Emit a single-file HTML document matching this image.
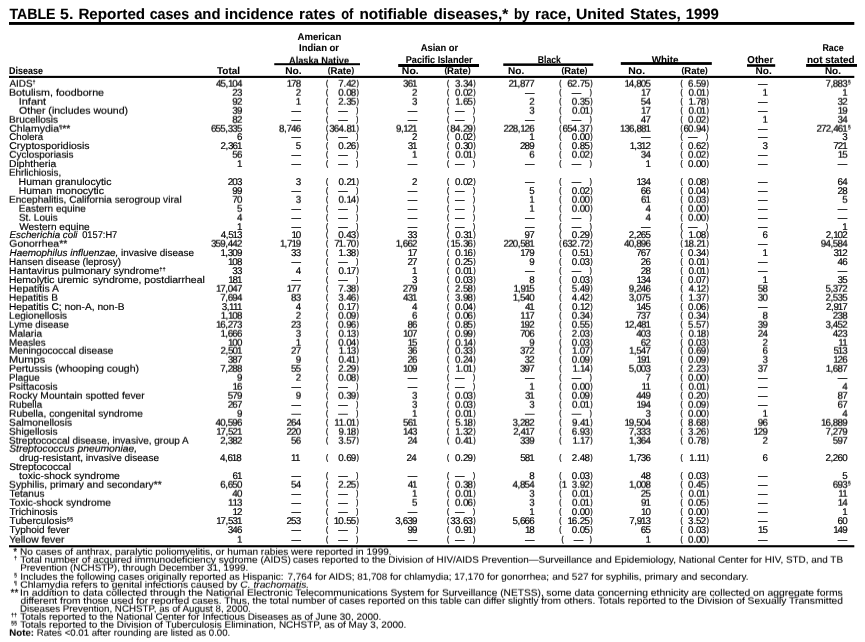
<!DOCTYPE html>
<html lang="en"><head><meta charset="utf-8"><title>TABLE 5. Reported cases and incidence rates of notifiable diseases, by race, United States, 1999</title>
<style>
html,body{margin:0;padding:0;background:#fff}
html{overflow:hidden}
body{width:865px;height:642px;position:relative;overflow:hidden}
#w{position:absolute;left:0;top:0;width:865px;height:642px;overflow:hidden;contain:strict}
svg{position:absolute;left:0;top:0;display:block;will-change:transform}
#B{transform:matrix(1,0.000001,0,1,0,0.75)}
text{font-family:"Liberation Sans",sans-serif;font-size:9.8px;fill:#000;white-space:pre;text-rendering:geometricPrecision;stroke:#000;stroke-width:0.16px;stroke-linejoin:round}
.n{letter-spacing:-0.8px;font-size:9.8px;text-anchor:end;stroke-width:0.2px}
.e{text-anchor:end}
.c{letter-spacing:-0.3px}
.k{letter-spacing:-1.1px}
.q{letter-spacing:-0.1px}
.hp{font-size:8.4px}
.p{font-size:8px;stroke-width:0.3px}
.pe{font-size:8px;text-anchor:end;stroke-width:0.3px}
.b{font-weight:bold}
.h{font-weight:bold;font-size:9.9px;stroke-width:0.08px}
.f{font-size:9.4px;stroke-width:0.08px}
.ttl{font-weight:bold;font-size:15.0px;stroke-width:0.1px}
.mk{font-size:5.4px;stroke-width:0.12px}
.fm{font-size:10px}
.i{font-style:italic}
</style></head>
<body>
<div id="w">
<svg id="A" width="865" height="642" viewBox="0 0 865 642">
<rect x="9.00" y="22.00" width="845.30" height="2.90"/>
<rect x="9.00" y="75.85" width="845.30" height="2.10"/>
<rect x="9.00" y="545.20" width="845.30" height="2.10"/>
<rect x="274.25" y="63.20" width="85.75" height="2.00"/>
<rect x="398.20" y="64.00" width="80.80" height="3.00"/>
<rect x="503.25" y="63.40" width="90.00" height="2.50"/>
<rect x="620.80" y="62.10" width="91.00" height="2.80"/>
<rect x="747.00" y="64.20" width="28.20" height="2.60"/>
<rect x="806.10" y="64.00" width="50.90" height="2.90"/>
<text x="9.42" y="19.00" class="ttl" textLength="46.11" lengthAdjust="spacingAndGlyphs">TABLE</text>
<text x="60.08" y="19.00" class="ttl" textLength="13.26" lengthAdjust="spacingAndGlyphs">5.</text>
<text x="78.40" y="19.00" class="ttl" textLength="66.74" lengthAdjust="spacingAndGlyphs">Reported</text>
<text x="149.70" y="19.00" class="ttl" textLength="39.43" lengthAdjust="spacingAndGlyphs">cases</text>
<text x="194.15" y="19.00" class="ttl" textLength="26.29" lengthAdjust="spacingAndGlyphs">and</text>
<text x="224.81" y="19.00" class="ttl" textLength="68.80" lengthAdjust="spacingAndGlyphs">incidence</text>
<text x="299.08" y="19.00" class="ttl" textLength="36.35" lengthAdjust="spacingAndGlyphs">rates</text>
<text x="341.25" y="19.00" class="ttl" textLength="12.18" lengthAdjust="spacingAndGlyphs">of</text>
<text x="359.44" y="19.00" class="ttl" textLength="68.16" lengthAdjust="spacingAndGlyphs">notifiable</text>
<text x="433.41" y="19.00" class="ttl" textLength="74.73" lengthAdjust="spacingAndGlyphs">diseases,*</text>
<text x="513.94" y="19.00" class="ttl" textLength="15.57" lengthAdjust="spacingAndGlyphs">by</text>
<text x="535.11" y="19.00" class="ttl" textLength="35.81" lengthAdjust="spacingAndGlyphs">race,</text>
<text x="575.91" y="19.00" class="ttl" textLength="48.81" lengthAdjust="spacingAndGlyphs">United</text>
<text x="629.91" y="19.00" class="ttl" textLength="50.98" lengthAdjust="spacingAndGlyphs">States,</text>
<text x="685.71" y="19.00" class="ttl" textLength="33.14" lengthAdjust="spacingAndGlyphs">1999</text>
<text x="9.10" y="74.00" class="h" textLength="33.76" lengthAdjust="spacingAndGlyphs">Disease</text>
<text x="217.03" y="74.00" class="h" textLength="23.05" lengthAdjust="spacingAndGlyphs">Total</text>
<text x="297.56" y="40.00" class="h" textLength="43.70" lengthAdjust="spacingAndGlyphs">American</text>
<text x="299.03" y="51.00" class="h" textLength="40.05" lengthAdjust="spacingAndGlyphs">Indian or</text>
<text x="285.25" y="74.00" class="h" textLength="16.43" lengthAdjust="spacingAndGlyphs">No.</text>
<text x="327.82" y="74.00" class="h" textLength="26.28" lengthAdjust="spacingAndGlyphs"><tspan class="hp" dy="-0.9">(</tspan><tspan dy="0.9">Rate</tspan><tspan class="hp" dy="-0.9">)</tspan></text>
<text x="420.75" y="51.00" class="h" textLength="37.45" lengthAdjust="spacingAndGlyphs">Asian or</text>
<text x="405.75" y="63.00" class="h" textLength="66.91" lengthAdjust="spacingAndGlyphs">Pacific Islander</text>
<text x="401.83" y="74.00" class="h" textLength="16.86" lengthAdjust="spacingAndGlyphs">No.</text>
<text x="444.41" y="74.00" class="h" textLength="26.19" lengthAdjust="spacingAndGlyphs"><tspan class="hp" dy="-0.9">(</tspan><tspan dy="0.9">Rate</tspan><tspan class="hp" dy="-0.9">)</tspan></text>
<text x="537.74" y="63.00" class="h" textLength="23.14" lengthAdjust="spacingAndGlyphs">Black</text>
<text x="508.12" y="74.00" class="h" textLength="16.20" lengthAdjust="spacingAndGlyphs">No.</text>
<text x="561.56" y="74.00" class="h" textLength="25.82" lengthAdjust="spacingAndGlyphs"><tspan class="hp" dy="-0.9">(</tspan><tspan dy="0.9">Rate</tspan><tspan class="hp" dy="-0.9">)</tspan></text>
<text x="651.70" y="63.00" class="h" textLength="26.78" lengthAdjust="spacingAndGlyphs">White</text>
<text x="628.25" y="74.00" class="h" textLength="16.80" lengthAdjust="spacingAndGlyphs">No.</text>
<text x="681.53" y="74.00" class="h" textLength="26.13" lengthAdjust="spacingAndGlyphs"><tspan class="hp" dy="-0.9">(</tspan><tspan dy="0.9">Rate</tspan><tspan class="hp" dy="-0.9">)</tspan></text>
<text x="747.37" y="63.00" class="h" textLength="25.83" lengthAdjust="spacingAndGlyphs">Other</text>
<text x="755.54" y="74.00" class="h" textLength="16.15" lengthAdjust="spacingAndGlyphs">No.</text>
<text x="822.41" y="51.00" class="h" textLength="21.14" lengthAdjust="spacingAndGlyphs">Race</text>
<text x="807.01" y="63.00" class="h" textLength="47.59" lengthAdjust="spacingAndGlyphs">not stated</text>
<text x="824.93" y="74.00" class="h" textLength="16.05" lengthAdjust="spacingAndGlyphs">No.</text>
<text x="767.60" y="87.00" class="e" textLength="9.50" lengthAdjust="spacingAndGlyphs">—</text>
<text x="534.40" y="96.00" class="e" textLength="9.50" lengthAdjust="spacingAndGlyphs">—</text>
<text x="581.30" y="96.00" class="e" textLength="9.50" lengthAdjust="spacingAndGlyphs">—</text>
<text x="767.60" y="105.00" class="e" textLength="9.50" lengthAdjust="spacingAndGlyphs">—</text>
<text x="300.90" y="114.00" class="e" textLength="9.50" lengthAdjust="spacingAndGlyphs">—</text>
<text x="417.20" y="114.00" class="e" textLength="9.50" lengthAdjust="spacingAndGlyphs">—</text>
<text x="767.60" y="114.00" class="e" textLength="9.50" lengthAdjust="spacingAndGlyphs">—</text>
<text x="347.70" y="114.00" class="e" textLength="9.50" lengthAdjust="spacingAndGlyphs">—</text>
<text x="464.40" y="114.00" class="e" textLength="9.50" lengthAdjust="spacingAndGlyphs">—</text>
<text x="300.90" y="123.00" class="e" textLength="9.50" lengthAdjust="spacingAndGlyphs">—</text>
<text x="417.20" y="123.00" class="e" textLength="9.50" lengthAdjust="spacingAndGlyphs">—</text>
<text x="534.40" y="123.00" class="e" textLength="9.50" lengthAdjust="spacingAndGlyphs">—</text>
<text x="347.70" y="123.00" class="e" textLength="9.50" lengthAdjust="spacingAndGlyphs">—</text>
<text x="464.40" y="123.00" class="e" textLength="9.50" lengthAdjust="spacingAndGlyphs">—</text>
<text x="581.30" y="123.00" class="e" textLength="9.50" lengthAdjust="spacingAndGlyphs">—</text>
<text x="767.60" y="132.00" class="e" textLength="9.50" lengthAdjust="spacingAndGlyphs">—</text>
<text x="9.35" y="140.00" textLength="33.71" lengthAdjust="spacingAndGlyphs">Cholera</text>
<text x="241.60" y="140.00" class="n">6</text>
<text x="300.90" y="140.00" class="e" textLength="9.50" lengthAdjust="spacingAndGlyphs">—</text>
<text x="416.70" y="140.00" class="n">2</text>
<text x="533.90" y="140.00" class="n">1</text>
<text x="650.60" y="140.00" class="e" textLength="9.50" lengthAdjust="spacingAndGlyphs">—</text>
<text x="767.60" y="140.00" class="e" textLength="9.50" lengthAdjust="spacingAndGlyphs">—</text>
<text x="846.80" y="140.00" class="n">3</text>
<text x="325.90" y="139.00" class="p" textLength="2.10" lengthAdjust="spacingAndGlyphs">(</text>
<text x="347.70" y="140.00" class="e" textLength="9.50" lengthAdjust="spacingAndGlyphs">—</text>
<text x="358.30" y="139.00" class="pe" textLength="2.10" lengthAdjust="spacingAndGlyphs">)</text>
<text x="447.00" y="139.00" class="p" textLength="2.10" lengthAdjust="spacingAndGlyphs">(</text>
<text x="472.20" y="140.00" class="n">0<tspan class="q" dx="0.7">.</tspan>02</text>
<text x="475.60" y="139.00" class="pe" textLength="2.10" lengthAdjust="spacingAndGlyphs">)</text>
<text x="559.20" y="139.00" class="p" textLength="2.10" lengthAdjust="spacingAndGlyphs">(</text>
<text x="589.10" y="140.00" class="n">0<tspan class="q" dx="0.7">.</tspan>00</text>
<text x="592.50" y="139.00" class="pe" textLength="2.10" lengthAdjust="spacingAndGlyphs">)</text>
<text x="680.40" y="139.00" class="p" textLength="2.10" lengthAdjust="spacingAndGlyphs">(</text>
<text x="697.60" y="140.00" class="e" textLength="9.50" lengthAdjust="spacingAndGlyphs">—</text>
<text x="708.20" y="139.00" class="pe" textLength="2.10" lengthAdjust="spacingAndGlyphs">)</text>
<text x="9.30" y="149.00" textLength="80.31" lengthAdjust="spacingAndGlyphs">Cryptosporidiosis</text>
<text x="241.60" y="149.00" class="n">2<tspan class="c" dx="0.3">,</tspan>36<tspan dx="-0.3">1</tspan></text>
<text x="300.40" y="149.00" class="n">5</text>
<text x="416.70" y="149.00" class="n">3<tspan dx="-0.3">1</tspan></text>
<text x="533.90" y="149.00" class="n">289</text>
<text x="650.10" y="149.00" class="n"><tspan class="k">1</tspan><tspan class="c" dx="0.3">,</tspan>3<tspan class="k" dx="-0.3">1</tspan>2</text>
<text x="767.10" y="149.00" class="n">3</text>
<text x="846.80" y="149.00" class="n">72<tspan dx="-0.3">1</tspan></text>
<text x="325.90" y="148.00" class="p" textLength="2.10" lengthAdjust="spacingAndGlyphs">(</text>
<text x="355.50" y="149.00" class="n">0<tspan class="q" dx="0.7">.</tspan>26</text>
<text x="358.90" y="148.00" class="pe" textLength="2.10" lengthAdjust="spacingAndGlyphs">)</text>
<text x="447.00" y="148.00" class="p" textLength="2.10" lengthAdjust="spacingAndGlyphs">(</text>
<text x="472.20" y="149.00" class="n">0<tspan class="q" dx="0.7">.</tspan>30</text>
<text x="475.60" y="148.00" class="pe" textLength="2.10" lengthAdjust="spacingAndGlyphs">)</text>
<text x="559.20" y="148.00" class="p" textLength="2.10" lengthAdjust="spacingAndGlyphs">(</text>
<text x="589.10" y="149.00" class="n">0<tspan class="q" dx="0.7">.</tspan>85</text>
<text x="592.50" y="148.00" class="pe" textLength="2.10" lengthAdjust="spacingAndGlyphs">)</text>
<text x="680.40" y="148.00" class="p" textLength="2.10" lengthAdjust="spacingAndGlyphs">(</text>
<text x="705.40" y="149.00" class="n">0<tspan class="q" dx="0.7">.</tspan>62</text>
<text x="708.80" y="148.00" class="pe" textLength="2.10" lengthAdjust="spacingAndGlyphs">)</text>
<text x="300.90" y="158.00" class="e" textLength="9.50" lengthAdjust="spacingAndGlyphs">—</text>
<text x="767.60" y="158.00" class="e" textLength="9.50" lengthAdjust="spacingAndGlyphs">—</text>
<text x="347.70" y="158.00" class="e" textLength="9.50" lengthAdjust="spacingAndGlyphs">—</text>
<text x="9.05" y="167.00" textLength="47.16" lengthAdjust="spacingAndGlyphs">Diphtheria</text>
<text x="241.60" y="167.00" class="n">1</text>
<text x="300.90" y="167.00" class="e" textLength="9.50" lengthAdjust="spacingAndGlyphs">—</text>
<text x="417.20" y="167.00" class="e" textLength="9.50" lengthAdjust="spacingAndGlyphs">—</text>
<text x="534.40" y="167.00" class="e" textLength="9.50" lengthAdjust="spacingAndGlyphs">—</text>
<text x="650.10" y="167.00" class="n">1</text>
<text x="767.60" y="167.00" class="e" textLength="9.50" lengthAdjust="spacingAndGlyphs">—</text>
<text x="847.30" y="167.00" class="e" textLength="9.50" lengthAdjust="spacingAndGlyphs">—</text>
<text x="325.90" y="166.00" class="p" textLength="2.10" lengthAdjust="spacingAndGlyphs">(</text>
<text x="347.70" y="167.00" class="e" textLength="9.50" lengthAdjust="spacingAndGlyphs">—</text>
<text x="358.30" y="166.00" class="pe" textLength="2.10" lengthAdjust="spacingAndGlyphs">)</text>
<text x="447.00" y="166.00" class="p" textLength="2.10" lengthAdjust="spacingAndGlyphs">(</text>
<text x="464.40" y="167.00" class="e" textLength="9.50" lengthAdjust="spacingAndGlyphs">—</text>
<text x="475.00" y="166.00" class="pe" textLength="2.10" lengthAdjust="spacingAndGlyphs">)</text>
<text x="559.20" y="166.00" class="p" textLength="2.10" lengthAdjust="spacingAndGlyphs">(</text>
<text x="581.30" y="167.00" class="e" textLength="9.50" lengthAdjust="spacingAndGlyphs">—</text>
<text x="591.90" y="166.00" class="pe" textLength="2.10" lengthAdjust="spacingAndGlyphs">)</text>
<text x="680.40" y="166.00" class="p" textLength="2.10" lengthAdjust="spacingAndGlyphs">(</text>
<text x="705.40" y="167.00" class="n">0<tspan class="q" dx="0.7">.</tspan>00</text>
<text x="708.80" y="166.00" class="pe" textLength="2.10" lengthAdjust="spacingAndGlyphs">)</text>
<text x="18.60" y="185.00" textLength="92.84" lengthAdjust="spacingAndGlyphs">Human granulocytic</text>
<text x="241.60" y="185.00" class="n">203</text>
<text x="300.40" y="185.00" class="n">3</text>
<text x="416.70" y="185.00" class="n">2</text>
<text x="534.40" y="185.00" class="e" textLength="9.50" lengthAdjust="spacingAndGlyphs">—</text>
<text x="650.10" y="185.00" class="n"><tspan class="k">1</tspan>34</text>
<text x="767.60" y="185.00" class="e" textLength="9.50" lengthAdjust="spacingAndGlyphs">—</text>
<text x="846.80" y="185.00" class="n">64</text>
<text x="325.90" y="184.00" class="p" textLength="2.10" lengthAdjust="spacingAndGlyphs">(</text>
<text x="355.50" y="185.00" class="n">0<tspan class="q" dx="0.7">.</tspan>2<tspan dx="-0.3">1</tspan></text>
<text x="358.90" y="184.00" class="pe" textLength="2.10" lengthAdjust="spacingAndGlyphs">)</text>
<text x="447.00" y="184.00" class="p" textLength="2.10" lengthAdjust="spacingAndGlyphs">(</text>
<text x="472.20" y="185.00" class="n">0<tspan class="q" dx="0.7">.</tspan>02</text>
<text x="475.60" y="184.00" class="pe" textLength="2.10" lengthAdjust="spacingAndGlyphs">)</text>
<text x="559.20" y="184.00" class="p" textLength="2.10" lengthAdjust="spacingAndGlyphs">(</text>
<text x="581.30" y="185.00" class="e" textLength="9.50" lengthAdjust="spacingAndGlyphs">—</text>
<text x="591.90" y="184.00" class="pe" textLength="2.10" lengthAdjust="spacingAndGlyphs">)</text>
<text x="680.40" y="184.00" class="p" textLength="2.10" lengthAdjust="spacingAndGlyphs">(</text>
<text x="705.40" y="185.00" class="n">0<tspan class="q" dx="0.7">.</tspan>08</text>
<text x="708.80" y="184.00" class="pe" textLength="2.10" lengthAdjust="spacingAndGlyphs">)</text>
<text x="18.67" y="194.00" textLength="33.53" lengthAdjust="spacingAndGlyphs">Human</text>
<text x="56.29" y="194.00" textLength="47.76" lengthAdjust="spacingAndGlyphs">monocytic</text>
<text x="241.60" y="194.00" class="n">99</text>
<text x="300.90" y="194.00" class="e" textLength="9.50" lengthAdjust="spacingAndGlyphs">—</text>
<text x="417.20" y="194.00" class="e" textLength="9.50" lengthAdjust="spacingAndGlyphs">—</text>
<text x="533.90" y="194.00" class="n">5</text>
<text x="650.10" y="194.00" class="n">66</text>
<text x="767.60" y="194.00" class="e" textLength="9.50" lengthAdjust="spacingAndGlyphs">—</text>
<text x="846.80" y="194.00" class="n">28</text>
<text x="325.90" y="193.00" class="p" textLength="2.10" lengthAdjust="spacingAndGlyphs">(</text>
<text x="347.70" y="194.00" class="e" textLength="9.50" lengthAdjust="spacingAndGlyphs">—</text>
<text x="358.30" y="193.00" class="pe" textLength="2.10" lengthAdjust="spacingAndGlyphs">)</text>
<text x="447.00" y="193.00" class="p" textLength="2.10" lengthAdjust="spacingAndGlyphs">(</text>
<text x="464.40" y="194.00" class="e" textLength="9.50" lengthAdjust="spacingAndGlyphs">—</text>
<text x="475.00" y="193.00" class="pe" textLength="2.10" lengthAdjust="spacingAndGlyphs">)</text>
<text x="559.20" y="193.00" class="p" textLength="2.10" lengthAdjust="spacingAndGlyphs">(</text>
<text x="589.10" y="194.00" class="n">0<tspan class="q" dx="0.7">.</tspan>02</text>
<text x="592.50" y="193.00" class="pe" textLength="2.10" lengthAdjust="spacingAndGlyphs">)</text>
<text x="680.40" y="193.00" class="p" textLength="2.10" lengthAdjust="spacingAndGlyphs">(</text>
<text x="705.40" y="194.00" class="n">0<tspan class="q" dx="0.7">.</tspan>04</text>
<text x="708.80" y="193.00" class="pe" textLength="2.10" lengthAdjust="spacingAndGlyphs">)</text>
<text x="417.20" y="203.00" class="e" textLength="9.50" lengthAdjust="spacingAndGlyphs">—</text>
<text x="767.60" y="203.00" class="e" textLength="9.50" lengthAdjust="spacingAndGlyphs">—</text>
<text x="464.40" y="203.00" class="e" textLength="9.50" lengthAdjust="spacingAndGlyphs">—</text>
<text x="300.90" y="212.00" class="e" textLength="9.50" lengthAdjust="spacingAndGlyphs">—</text>
<text x="417.20" y="212.00" class="e" textLength="9.50" lengthAdjust="spacingAndGlyphs">—</text>
<text x="767.60" y="212.00" class="e" textLength="9.50" lengthAdjust="spacingAndGlyphs">—</text>
<text x="847.30" y="212.00" class="e" textLength="9.50" lengthAdjust="spacingAndGlyphs">—</text>
<text x="347.70" y="212.00" class="e" textLength="9.50" lengthAdjust="spacingAndGlyphs">—</text>
<text x="464.40" y="212.00" class="e" textLength="9.50" lengthAdjust="spacingAndGlyphs">—</text>
<text x="300.90" y="221.00" class="e" textLength="9.50" lengthAdjust="spacingAndGlyphs">—</text>
<text x="417.20" y="221.00" class="e" textLength="9.50" lengthAdjust="spacingAndGlyphs">—</text>
<text x="534.40" y="221.00" class="e" textLength="9.50" lengthAdjust="spacingAndGlyphs">—</text>
<text x="767.60" y="221.00" class="e" textLength="9.50" lengthAdjust="spacingAndGlyphs">—</text>
<text x="847.30" y="221.00" class="e" textLength="9.50" lengthAdjust="spacingAndGlyphs">—</text>
<text x="347.70" y="221.00" class="e" textLength="9.50" lengthAdjust="spacingAndGlyphs">—</text>
<text x="464.40" y="221.00" class="e" textLength="9.50" lengthAdjust="spacingAndGlyphs">—</text>
<text x="581.30" y="221.00" class="e" textLength="9.50" lengthAdjust="spacingAndGlyphs">—</text>
<text x="19.17" y="230.00" textLength="70.47" lengthAdjust="spacingAndGlyphs">Western equine</text>
<text x="241.60" y="230.00" class="n">1</text>
<text x="300.90" y="230.00" class="e" textLength="9.50" lengthAdjust="spacingAndGlyphs">—</text>
<text x="417.20" y="230.00" class="e" textLength="9.50" lengthAdjust="spacingAndGlyphs">—</text>
<text x="534.40" y="230.00" class="e" textLength="9.50" lengthAdjust="spacingAndGlyphs">—</text>
<text x="650.60" y="230.00" class="e" textLength="9.50" lengthAdjust="spacingAndGlyphs">—</text>
<text x="767.60" y="230.00" class="e" textLength="9.50" lengthAdjust="spacingAndGlyphs">—</text>
<text x="846.80" y="230.00" class="n">1</text>
<text x="325.90" y="229.00" class="p" textLength="2.10" lengthAdjust="spacingAndGlyphs">(</text>
<text x="347.70" y="230.00" class="e" textLength="9.50" lengthAdjust="spacingAndGlyphs">—</text>
<text x="358.30" y="229.00" class="pe" textLength="2.10" lengthAdjust="spacingAndGlyphs">)</text>
<text x="447.00" y="229.00" class="p" textLength="2.10" lengthAdjust="spacingAndGlyphs">(</text>
<text x="464.40" y="230.00" class="e" textLength="9.50" lengthAdjust="spacingAndGlyphs">—</text>
<text x="475.00" y="229.00" class="pe" textLength="2.10" lengthAdjust="spacingAndGlyphs">)</text>
<text x="559.20" y="229.00" class="p" textLength="2.10" lengthAdjust="spacingAndGlyphs">(</text>
<text x="581.30" y="230.00" class="e" textLength="9.50" lengthAdjust="spacingAndGlyphs">—</text>
<text x="591.90" y="229.00" class="pe" textLength="2.10" lengthAdjust="spacingAndGlyphs">)</text>
<text x="680.40" y="229.00" class="p" textLength="2.10" lengthAdjust="spacingAndGlyphs">(</text>
<text x="697.60" y="230.00" class="e" textLength="9.50" lengthAdjust="spacingAndGlyphs">—</text>
<text x="708.20" y="229.00" class="pe" textLength="2.10" lengthAdjust="spacingAndGlyphs">)</text>
<text x="9.59" y="238.00" textLength="67.97" lengthAdjust="spacingAndGlyphs"><tspan class="i">Escherichia coli</tspan></text>
<text x="82.17" y="238.00" textLength="35.10" lengthAdjust="spacingAndGlyphs">0157:H7</text>
<text x="241.60" y="238.00" class="n">4<tspan class="c" dx="0.3">,</tspan>5<tspan class="k" dx="-0.3">1</tspan>3</text>
<text x="300.40" y="238.00" class="n"><tspan class="k">1</tspan>0</text>
<text x="416.70" y="238.00" class="n">33</text>
<text x="533.90" y="238.00" class="n">97</text>
<text x="650.10" y="238.00" class="n">2<tspan class="c" dx="0.3">,</tspan>265</text>
<text x="767.10" y="238.00" class="n">6</text>
<text x="846.80" y="238.00" class="n">2<tspan class="c" dx="0.3">,</tspan><tspan class="k">1</tspan>02</text>
<text x="325.90" y="237.00" class="p" textLength="2.10" lengthAdjust="spacingAndGlyphs">(</text>
<text x="355.50" y="238.00" class="n">0<tspan class="q" dx="0.7">.</tspan>43</text>
<text x="358.90" y="237.00" class="pe" textLength="2.10" lengthAdjust="spacingAndGlyphs">)</text>
<text x="447.00" y="237.00" class="p" textLength="2.10" lengthAdjust="spacingAndGlyphs">(</text>
<text x="472.20" y="238.00" class="n">0<tspan class="q" dx="0.7">.</tspan>3<tspan dx="-0.3">1</tspan></text>
<text x="475.60" y="237.00" class="pe" textLength="2.10" lengthAdjust="spacingAndGlyphs">)</text>
<text x="559.20" y="237.00" class="p" textLength="2.10" lengthAdjust="spacingAndGlyphs">(</text>
<text x="589.10" y="238.00" class="n">0<tspan class="q" dx="0.7">.</tspan>29</text>
<text x="592.50" y="237.00" class="pe" textLength="2.10" lengthAdjust="spacingAndGlyphs">)</text>
<text x="680.40" y="237.00" class="p" textLength="2.10" lengthAdjust="spacingAndGlyphs">(</text>
<text x="705.40" y="238.00" class="n"><tspan class="k">1</tspan><tspan class="q" dx="0.7">.</tspan>08</text>
<text x="708.80" y="237.00" class="pe" textLength="2.10" lengthAdjust="spacingAndGlyphs">)</text>
<text x="767.60" y="247.00" class="e" textLength="9.50" lengthAdjust="spacingAndGlyphs">—</text>
<text x="9.53" y="256.00" textLength="184.47" lengthAdjust="spacingAndGlyphs"><tspan class="i">Haemophilus influenzae,</tspan> invasive disease</text>
<text x="241.60" y="256.00" class="n"><tspan class="k">1</tspan><tspan class="c" dx="0.3">,</tspan>309</text>
<text x="300.40" y="256.00" class="n">33</text>
<text x="416.70" y="256.00" class="n"><tspan class="k">1</tspan>7</text>
<text x="533.90" y="256.00" class="n"><tspan class="k">1</tspan>79</text>
<text x="650.10" y="256.00" class="n">767</text>
<text x="767.10" y="256.00" class="n">1</text>
<text x="846.80" y="256.00" class="n">3<tspan class="k" dx="-0.3">1</tspan>2</text>
<text x="325.90" y="255.00" class="p" textLength="2.10" lengthAdjust="spacingAndGlyphs">(</text>
<text x="355.50" y="256.00" class="n"><tspan class="k">1</tspan><tspan class="q" dx="0.7">.</tspan>38</text>
<text x="358.90" y="255.00" class="pe" textLength="2.10" lengthAdjust="spacingAndGlyphs">)</text>
<text x="447.00" y="255.00" class="p" textLength="2.10" lengthAdjust="spacingAndGlyphs">(</text>
<text x="472.20" y="256.00" class="n">0<tspan class="q" dx="0.7">.</tspan><tspan class="k">1</tspan>6</text>
<text x="475.60" y="255.00" class="pe" textLength="2.10" lengthAdjust="spacingAndGlyphs">)</text>
<text x="559.20" y="255.00" class="p" textLength="2.10" lengthAdjust="spacingAndGlyphs">(</text>
<text x="589.10" y="256.00" class="n">0<tspan class="q" dx="0.7">.</tspan>5<tspan dx="-0.3">1</tspan></text>
<text x="592.50" y="255.00" class="pe" textLength="2.10" lengthAdjust="spacingAndGlyphs">)</text>
<text x="680.40" y="255.00" class="p" textLength="2.10" lengthAdjust="spacingAndGlyphs">(</text>
<text x="705.40" y="256.00" class="n">0<tspan class="q" dx="0.7">.</tspan>34</text>
<text x="708.80" y="255.00" class="pe" textLength="2.10" lengthAdjust="spacingAndGlyphs">)</text>
<text x="9.13" y="265.00" textLength="111.86" lengthAdjust="spacingAndGlyphs">Hansen disease (leprosy)</text>
<text x="241.60" y="265.00" class="n"><tspan class="k">1</tspan>08</text>
<text x="300.90" y="265.00" class="e" textLength="9.50" lengthAdjust="spacingAndGlyphs">—</text>
<text x="416.70" y="265.00" class="n">27</text>
<text x="533.90" y="265.00" class="n">9</text>
<text x="650.10" y="265.00" class="n">26</text>
<text x="767.60" y="265.00" class="e" textLength="9.50" lengthAdjust="spacingAndGlyphs">—</text>
<text x="846.80" y="265.00" class="n">46</text>
<text x="325.90" y="264.00" class="p" textLength="2.10" lengthAdjust="spacingAndGlyphs">(</text>
<text x="347.70" y="265.00" class="e" textLength="9.50" lengthAdjust="spacingAndGlyphs">—</text>
<text x="358.30" y="264.00" class="pe" textLength="2.10" lengthAdjust="spacingAndGlyphs">)</text>
<text x="447.00" y="264.00" class="p" textLength="2.10" lengthAdjust="spacingAndGlyphs">(</text>
<text x="472.20" y="265.00" class="n">0<tspan class="q" dx="0.7">.</tspan>25</text>
<text x="475.60" y="264.00" class="pe" textLength="2.10" lengthAdjust="spacingAndGlyphs">)</text>
<text x="559.20" y="264.00" class="p" textLength="2.10" lengthAdjust="spacingAndGlyphs">(</text>
<text x="589.10" y="265.00" class="n">0<tspan class="q" dx="0.7">.</tspan>03</text>
<text x="592.50" y="264.00" class="pe" textLength="2.10" lengthAdjust="spacingAndGlyphs">)</text>
<text x="680.40" y="264.00" class="p" textLength="2.10" lengthAdjust="spacingAndGlyphs">(</text>
<text x="705.40" y="265.00" class="n">0<tspan class="q" dx="0.7">.</tspan>0<tspan dx="-0.3">1</tspan></text>
<text x="708.80" y="264.00" class="pe" textLength="2.10" lengthAdjust="spacingAndGlyphs">)</text>
<text x="9.12" y="274.00" textLength="156.57" lengthAdjust="spacingAndGlyphs">Hantavirus pulmonary syndrome<tspan class="mk" dy="-3.2">††</tspan></text>
<text x="241.60" y="274.00" class="n">33</text>
<text x="300.40" y="274.00" class="n">4</text>
<text x="416.70" y="274.00" class="n">1</text>
<text x="534.40" y="274.00" class="e" textLength="9.50" lengthAdjust="spacingAndGlyphs">—</text>
<text x="650.10" y="274.00" class="n">28</text>
<text x="767.60" y="274.00" class="e" textLength="9.50" lengthAdjust="spacingAndGlyphs">—</text>
<text x="847.30" y="274.00" class="e" textLength="9.50" lengthAdjust="spacingAndGlyphs">—</text>
<text x="325.90" y="273.00" class="p" textLength="2.10" lengthAdjust="spacingAndGlyphs">(</text>
<text x="355.50" y="274.00" class="n">0<tspan class="q" dx="0.7">.</tspan><tspan class="k">1</tspan>7</text>
<text x="358.90" y="273.00" class="pe" textLength="2.10" lengthAdjust="spacingAndGlyphs">)</text>
<text x="447.00" y="273.00" class="p" textLength="2.10" lengthAdjust="spacingAndGlyphs">(</text>
<text x="472.20" y="274.00" class="n">0<tspan class="q" dx="0.7">.</tspan>0<tspan dx="-0.3">1</tspan></text>
<text x="475.60" y="273.00" class="pe" textLength="2.10" lengthAdjust="spacingAndGlyphs">)</text>
<text x="559.20" y="273.00" class="p" textLength="2.10" lengthAdjust="spacingAndGlyphs">(</text>
<text x="581.30" y="274.00" class="e" textLength="9.50" lengthAdjust="spacingAndGlyphs">—</text>
<text x="591.90" y="273.00" class="pe" textLength="2.10" lengthAdjust="spacingAndGlyphs">)</text>
<text x="680.40" y="273.00" class="p" textLength="2.10" lengthAdjust="spacingAndGlyphs">(</text>
<text x="705.40" y="274.00" class="n">0<tspan class="q" dx="0.7">.</tspan>0<tspan dx="-0.3">1</tspan></text>
<text x="708.80" y="273.00" class="pe" textLength="2.10" lengthAdjust="spacingAndGlyphs">)</text>
<text x="8.98" y="283.00" textLength="79.53" lengthAdjust="spacingAndGlyphs">Hemolytic uremic</text>
<text x="92.66" y="283.00" textLength="112.18" lengthAdjust="spacingAndGlyphs">syndrome, postdiarrheal</text>
<text x="241.60" y="283.00" class="n"><tspan class="k">1</tspan>8<tspan dx="-0.3">1</tspan></text>
<text x="300.90" y="283.00" class="e" textLength="9.50" lengthAdjust="spacingAndGlyphs">—</text>
<text x="416.70" y="283.00" class="n">3</text>
<text x="533.90" y="283.00" class="n">8</text>
<text x="650.10" y="283.00" class="n"><tspan class="k">1</tspan>34</text>
<text x="767.10" y="283.00" class="n">1</text>
<text x="846.80" y="283.00" class="n">35</text>
<text x="325.90" y="282.00" class="p" textLength="2.10" lengthAdjust="spacingAndGlyphs">(</text>
<text x="347.70" y="283.00" class="e" textLength="9.50" lengthAdjust="spacingAndGlyphs">—</text>
<text x="358.30" y="282.00" class="pe" textLength="2.10" lengthAdjust="spacingAndGlyphs">)</text>
<text x="447.00" y="282.00" class="p" textLength="2.10" lengthAdjust="spacingAndGlyphs">(</text>
<text x="472.20" y="283.00" class="n">0<tspan class="q" dx="0.7">.</tspan>03</text>
<text x="475.60" y="282.00" class="pe" textLength="2.10" lengthAdjust="spacingAndGlyphs">)</text>
<text x="559.20" y="282.00" class="p" textLength="2.10" lengthAdjust="spacingAndGlyphs">(</text>
<text x="589.10" y="283.00" class="n">0<tspan class="q" dx="0.7">.</tspan>03</text>
<text x="592.50" y="282.00" class="pe" textLength="2.10" lengthAdjust="spacingAndGlyphs">)</text>
<text x="680.40" y="282.00" class="p" textLength="2.10" lengthAdjust="spacingAndGlyphs">(</text>
<text x="705.40" y="283.00" class="n">0<tspan class="q" dx="0.7">.</tspan>07</text>
<text x="708.80" y="282.00" class="pe" textLength="2.10" lengthAdjust="spacingAndGlyphs">)</text>
<text x="8.98" y="310.00" textLength="115.64" lengthAdjust="spacingAndGlyphs">Hepatitis C; non-A, non-B</text>
<text x="241.60" y="310.00" class="n">3<tspan class="c" dx="0.3">,</tspan>111</text>
<text x="300.40" y="310.00" class="n">4</text>
<text x="416.70" y="310.00" class="n">4</text>
<text x="533.90" y="310.00" class="n">4<tspan dx="-0.3">1</tspan></text>
<text x="650.10" y="310.00" class="n"><tspan class="k">1</tspan>45</text>
<text x="767.60" y="310.00" class="e" textLength="9.50" lengthAdjust="spacingAndGlyphs">—</text>
<text x="846.80" y="310.00" class="n">2<tspan class="c" dx="0.3">,</tspan>9<tspan class="k" dx="-0.3">1</tspan>7</text>
<text x="325.90" y="309.00" class="p" textLength="2.10" lengthAdjust="spacingAndGlyphs">(</text>
<text x="355.50" y="310.00" class="n">0<tspan class="q" dx="0.7">.</tspan><tspan class="k">1</tspan>7</text>
<text x="358.90" y="309.00" class="pe" textLength="2.10" lengthAdjust="spacingAndGlyphs">)</text>
<text x="447.00" y="309.00" class="p" textLength="2.10" lengthAdjust="spacingAndGlyphs">(</text>
<text x="472.20" y="310.00" class="n">0<tspan class="q" dx="0.7">.</tspan>04</text>
<text x="475.60" y="309.00" class="pe" textLength="2.10" lengthAdjust="spacingAndGlyphs">)</text>
<text x="559.20" y="309.00" class="p" textLength="2.10" lengthAdjust="spacingAndGlyphs">(</text>
<text x="589.10" y="310.00" class="n">0<tspan class="q" dx="0.7">.</tspan><tspan class="k">1</tspan>2</text>
<text x="592.50" y="309.00" class="pe" textLength="2.10" lengthAdjust="spacingAndGlyphs">)</text>
<text x="680.40" y="309.00" class="p" textLength="2.10" lengthAdjust="spacingAndGlyphs">(</text>
<text x="705.40" y="310.00" class="n">0<tspan class="q" dx="0.7">.</tspan>06</text>
<text x="708.80" y="309.00" class="pe" textLength="2.10" lengthAdjust="spacingAndGlyphs">)</text>
<text x="417.20" y="381.00" class="e" textLength="9.50" lengthAdjust="spacingAndGlyphs">—</text>
<text x="534.40" y="381.00" class="e" textLength="9.50" lengthAdjust="spacingAndGlyphs">—</text>
<text x="767.60" y="381.00" class="e" textLength="9.50" lengthAdjust="spacingAndGlyphs">—</text>
<text x="847.30" y="381.00" class="e" textLength="9.50" lengthAdjust="spacingAndGlyphs">—</text>
<text x="464.40" y="381.00" class="e" textLength="9.50" lengthAdjust="spacingAndGlyphs">—</text>
<text x="581.30" y="381.00" class="e" textLength="9.50" lengthAdjust="spacingAndGlyphs">—</text>
<text x="300.90" y="390.00" class="e" textLength="9.50" lengthAdjust="spacingAndGlyphs">—</text>
<text x="417.20" y="390.00" class="e" textLength="9.50" lengthAdjust="spacingAndGlyphs">—</text>
<text x="767.60" y="390.00" class="e" textLength="9.50" lengthAdjust="spacingAndGlyphs">—</text>
<text x="347.70" y="390.00" class="e" textLength="9.50" lengthAdjust="spacingAndGlyphs">—</text>
<text x="464.40" y="390.00" class="e" textLength="9.50" lengthAdjust="spacingAndGlyphs">—</text>
<text x="767.60" y="399.00" class="e" textLength="9.50" lengthAdjust="spacingAndGlyphs">—</text>
<text x="300.90" y="408.00" class="e" textLength="9.50" lengthAdjust="spacingAndGlyphs">—</text>
<text x="767.60" y="408.00" class="e" textLength="9.50" lengthAdjust="spacingAndGlyphs">—</text>
<text x="347.70" y="408.00" class="e" textLength="9.50" lengthAdjust="spacingAndGlyphs">—</text>
<text x="19.21" y="461.00" textLength="139.76" lengthAdjust="spacingAndGlyphs">drug-resistant, invasive disease</text>
<text x="240.80" y="461.00" class="n">4<tspan class="c" dx="0.3">,</tspan>6<tspan class="k" dx="-0.3">1</tspan>8</text>
<text x="299.60" y="461.00" class="n">11</text>
<text x="415.90" y="461.00" class="n">24</text>
<text x="533.90" y="461.00" class="n">58<tspan dx="-0.3">1</tspan></text>
<text x="650.10" y="461.00" class="n"><tspan class="k">1</tspan><tspan class="c" dx="0.3">,</tspan>736</text>
<text x="767.10" y="461.00" class="n">6</text>
<text x="846.80" y="461.00" class="n">2<tspan class="c" dx="0.3">,</tspan>260</text>
<text x="325.90" y="460.00" class="p" textLength="2.10" lengthAdjust="spacingAndGlyphs">(</text>
<text x="355.50" y="461.00" class="n">0<tspan class="q" dx="0.7">.</tspan>69</text>
<text x="358.90" y="460.00" class="pe" textLength="2.10" lengthAdjust="spacingAndGlyphs">)</text>
<text x="447.00" y="460.00" class="p" textLength="2.10" lengthAdjust="spacingAndGlyphs">(</text>
<text x="472.20" y="461.00" class="n">0<tspan class="q" dx="0.7">.</tspan>29</text>
<text x="475.60" y="460.00" class="pe" textLength="2.10" lengthAdjust="spacingAndGlyphs">)</text>
<text x="559.20" y="460.00" class="p" textLength="2.10" lengthAdjust="spacingAndGlyphs">(</text>
<text x="589.10" y="461.00" class="n">2<tspan class="q" dx="0.7">.</tspan>48</text>
<text x="592.50" y="460.00" class="pe" textLength="2.10" lengthAdjust="spacingAndGlyphs">)</text>
<text x="680.40" y="460.00" class="p" textLength="2.10" lengthAdjust="spacingAndGlyphs">(</text>
<text x="705.40" y="461.00" class="n"><tspan class="k">1</tspan><tspan class="q" dx="0.7">.</tspan>11</text>
<text x="708.80" y="460.00" class="pe" textLength="2.10" lengthAdjust="spacingAndGlyphs">)</text>
<text x="9.18" y="470.00" textLength="61.87" lengthAdjust="spacingAndGlyphs">Streptococcal</text>
<text x="19.09" y="479.00" textLength="100.82" lengthAdjust="spacingAndGlyphs">toxic-shock syndrome</text>
<text x="241.60" y="479.00" class="n">6<tspan dx="-0.3">1</tspan></text>
<text x="300.90" y="479.00" class="e" textLength="9.50" lengthAdjust="spacingAndGlyphs">—</text>
<text x="417.20" y="479.00" class="e" textLength="9.50" lengthAdjust="spacingAndGlyphs">—</text>
<text x="533.90" y="479.00" class="n">8</text>
<text x="650.10" y="479.00" class="n">48</text>
<text x="767.60" y="479.00" class="e" textLength="9.50" lengthAdjust="spacingAndGlyphs">—</text>
<text x="846.80" y="479.00" class="n">5</text>
<text x="325.90" y="478.00" class="p" textLength="2.10" lengthAdjust="spacingAndGlyphs">(</text>
<text x="347.70" y="479.00" class="e" textLength="9.50" lengthAdjust="spacingAndGlyphs">—</text>
<text x="358.30" y="478.00" class="pe" textLength="2.10" lengthAdjust="spacingAndGlyphs">)</text>
<text x="447.00" y="478.00" class="p" textLength="2.10" lengthAdjust="spacingAndGlyphs">(</text>
<text x="464.40" y="479.00" class="e" textLength="9.50" lengthAdjust="spacingAndGlyphs">—</text>
<text x="475.00" y="478.00" class="pe" textLength="2.10" lengthAdjust="spacingAndGlyphs">)</text>
<text x="559.20" y="478.00" class="p" textLength="2.10" lengthAdjust="spacingAndGlyphs">(</text>
<text x="589.10" y="479.00" class="n">0<tspan class="q" dx="0.7">.</tspan>03</text>
<text x="592.50" y="478.00" class="pe" textLength="2.10" lengthAdjust="spacingAndGlyphs">)</text>
<text x="680.40" y="478.00" class="p" textLength="2.10" lengthAdjust="spacingAndGlyphs">(</text>
<text x="705.40" y="479.00" class="n">0<tspan class="q" dx="0.7">.</tspan>03</text>
<text x="708.80" y="478.00" class="pe" textLength="2.10" lengthAdjust="spacingAndGlyphs">)</text>
<text x="767.60" y="488.00" class="e" textLength="9.50" lengthAdjust="spacingAndGlyphs">—</text>
<text x="300.90" y="497.00" class="e" textLength="9.50" lengthAdjust="spacingAndGlyphs">—</text>
<text x="767.60" y="497.00" class="e" textLength="9.50" lengthAdjust="spacingAndGlyphs">—</text>
<text x="347.70" y="497.00" class="e" textLength="9.50" lengthAdjust="spacingAndGlyphs">—</text>
<text x="300.90" y="506.00" class="e" textLength="9.50" lengthAdjust="spacingAndGlyphs">—</text>
<text x="767.60" y="506.00" class="e" textLength="9.50" lengthAdjust="spacingAndGlyphs">—</text>
<text x="347.70" y="506.00" class="e" textLength="9.50" lengthAdjust="spacingAndGlyphs">—</text>
<text x="9.53" y="515.00" textLength="48.19" lengthAdjust="spacingAndGlyphs">Trichinosis</text>
<text x="241.60" y="515.00" class="n"><tspan class="k">1</tspan>2</text>
<text x="300.90" y="515.00" class="e" textLength="9.50" lengthAdjust="spacingAndGlyphs">—</text>
<text x="417.20" y="515.00" class="e" textLength="9.50" lengthAdjust="spacingAndGlyphs">—</text>
<text x="533.90" y="515.00" class="n">1</text>
<text x="650.10" y="515.00" class="n"><tspan class="k">1</tspan>0</text>
<text x="767.60" y="515.00" class="e" textLength="9.50" lengthAdjust="spacingAndGlyphs">—</text>
<text x="846.80" y="515.00" class="n">1</text>
<text x="325.90" y="514.00" class="p" textLength="2.10" lengthAdjust="spacingAndGlyphs">(</text>
<text x="347.70" y="515.00" class="e" textLength="9.50" lengthAdjust="spacingAndGlyphs">—</text>
<text x="358.30" y="514.00" class="pe" textLength="2.10" lengthAdjust="spacingAndGlyphs">)</text>
<text x="447.00" y="514.00" class="p" textLength="2.10" lengthAdjust="spacingAndGlyphs">(</text>
<text x="464.40" y="515.00" class="e" textLength="9.50" lengthAdjust="spacingAndGlyphs">—</text>
<text x="475.00" y="514.00" class="pe" textLength="2.10" lengthAdjust="spacingAndGlyphs">)</text>
<text x="559.20" y="514.00" class="p" textLength="2.10" lengthAdjust="spacingAndGlyphs">(</text>
<text x="589.10" y="515.00" class="n">0<tspan class="q" dx="0.7">.</tspan>00</text>
<text x="592.50" y="514.00" class="pe" textLength="2.10" lengthAdjust="spacingAndGlyphs">)</text>
<text x="680.40" y="514.00" class="p" textLength="2.10" lengthAdjust="spacingAndGlyphs">(</text>
<text x="705.40" y="515.00" class="n">0<tspan class="q" dx="0.7">.</tspan>00</text>
<text x="708.80" y="514.00" class="pe" textLength="2.10" lengthAdjust="spacingAndGlyphs">)</text>
<text x="9.64" y="524.00" textLength="63.41" lengthAdjust="spacingAndGlyphs">Tuberculosis<tspan class="mk" dy="-3.2">§§</tspan></text>
<text x="241.60" y="524.00" class="n"><tspan class="k">1</tspan>7<tspan class="c" dx="0.3">,</tspan>53<tspan dx="-0.3">1</tspan></text>
<text x="300.40" y="524.00" class="n">253</text>
<text x="416.70" y="524.00" class="n">3<tspan class="c" dx="0.3">,</tspan>639</text>
<text x="533.90" y="524.00" class="n">5<tspan class="c" dx="0.3">,</tspan>666</text>
<text x="650.10" y="524.00" class="n">7<tspan class="c" dx="0.3">,</tspan>9<tspan class="k" dx="-0.3">1</tspan>3</text>
<text x="767.60" y="524.00" class="e" textLength="9.50" lengthAdjust="spacingAndGlyphs">—</text>
<text x="846.80" y="524.00" class="n">60</text>
<text x="325.90" y="523.00" class="p" textLength="2.10" lengthAdjust="spacingAndGlyphs">(</text>
<text x="355.50" y="524.00" class="n"><tspan class="k">1</tspan>0<tspan class="q" dx="0.7">.</tspan>55</text>
<text x="358.90" y="523.00" class="pe" textLength="2.10" lengthAdjust="spacingAndGlyphs">)</text>
<text x="447.00" y="523.00" class="p" textLength="2.10" lengthAdjust="spacingAndGlyphs">(</text>
<text x="472.20" y="524.00" class="n">33<tspan class="q" dx="0.7">.</tspan>63</text>
<text x="475.60" y="523.00" class="pe" textLength="2.10" lengthAdjust="spacingAndGlyphs">)</text>
<text x="559.20" y="523.00" class="p" textLength="2.10" lengthAdjust="spacingAndGlyphs">(</text>
<text x="589.10" y="524.00" class="n"><tspan class="k">1</tspan>6<tspan class="q" dx="0.7">.</tspan>25</text>
<text x="592.50" y="523.00" class="pe" textLength="2.10" lengthAdjust="spacingAndGlyphs">)</text>
<text x="680.40" y="523.00" class="p" textLength="2.10" lengthAdjust="spacingAndGlyphs">(</text>
<text x="705.40" y="524.00" class="n">3<tspan class="q" dx="0.7">.</tspan>52</text>
<text x="708.80" y="523.00" class="pe" textLength="2.10" lengthAdjust="spacingAndGlyphs">)</text>
<text x="9.64" y="533.00" textLength="60.03" lengthAdjust="spacingAndGlyphs">Typhoid fever</text>
<text x="241.60" y="533.00" class="n">346</text>
<text x="300.90" y="533.00" class="e" textLength="9.50" lengthAdjust="spacingAndGlyphs">—</text>
<text x="416.70" y="533.00" class="n">99</text>
<text x="533.90" y="533.00" class="n"><tspan class="k">1</tspan>8</text>
<text x="650.10" y="533.00" class="n">65</text>
<text x="767.10" y="533.00" class="n"><tspan class="k">1</tspan>5</text>
<text x="846.80" y="533.00" class="n"><tspan class="k">1</tspan>49</text>
<text x="325.90" y="532.00" class="p" textLength="2.10" lengthAdjust="spacingAndGlyphs">(</text>
<text x="347.70" y="533.00" class="e" textLength="9.50" lengthAdjust="spacingAndGlyphs">—</text>
<text x="358.30" y="532.00" class="pe" textLength="2.10" lengthAdjust="spacingAndGlyphs">)</text>
<text x="447.00" y="532.00" class="p" textLength="2.10" lengthAdjust="spacingAndGlyphs">(</text>
<text x="472.20" y="533.00" class="n">0<tspan class="q" dx="0.7">.</tspan>9<tspan dx="-0.3">1</tspan></text>
<text x="475.60" y="532.00" class="pe" textLength="2.10" lengthAdjust="spacingAndGlyphs">)</text>
<text x="559.20" y="532.00" class="p" textLength="2.10" lengthAdjust="spacingAndGlyphs">(</text>
<text x="589.10" y="533.00" class="n">0<tspan class="q" dx="0.7">.</tspan>05</text>
<text x="592.50" y="532.00" class="pe" textLength="2.10" lengthAdjust="spacingAndGlyphs">)</text>
<text x="680.40" y="532.00" class="p" textLength="2.10" lengthAdjust="spacingAndGlyphs">(</text>
<text x="705.40" y="533.00" class="n">0<tspan class="q" dx="0.7">.</tspan>03</text>
<text x="708.80" y="532.00" class="pe" textLength="2.10" lengthAdjust="spacingAndGlyphs">)</text>
<text x="300.90" y="543.00" class="e" textLength="9.50" lengthAdjust="spacingAndGlyphs">—</text>
<text x="417.20" y="543.00" class="e" textLength="9.50" lengthAdjust="spacingAndGlyphs">—</text>
<text x="534.40" y="543.00" class="e" textLength="9.50" lengthAdjust="spacingAndGlyphs">—</text>
<text x="767.60" y="543.00" class="e" textLength="9.50" lengthAdjust="spacingAndGlyphs">—</text>
<text x="847.30" y="543.00" class="e" textLength="9.50" lengthAdjust="spacingAndGlyphs">—</text>
<text x="347.70" y="543.00" class="e" textLength="9.50" lengthAdjust="spacingAndGlyphs">—</text>
<text x="464.40" y="543.00" class="e" textLength="9.50" lengthAdjust="spacingAndGlyphs">—</text>
<text x="583.28" y="543.00" class="e" textLength="9.50" lengthAdjust="spacingAndGlyphs">—</text>
</svg>
<svg id="B" width="865" height="642" viewBox="0 0 865 642">
<text x="288.98" y="63.00" class="h" textLength="60.07" lengthAdjust="spacingAndGlyphs">Alaska Native</text>
<text x="9.45" y="86.00" textLength="26.08" lengthAdjust="spacingAndGlyphs">AIDS<tspan class="mk" dy="-3.2">†</tspan></text>
<text x="241.60" y="86.00" class="n">45<tspan class="c" dx="0.3">,</tspan><tspan class="k">1</tspan>04</text>
<text x="300.40" y="86.00" class="n"><tspan class="k">1</tspan>78</text>
<text x="416.70" y="86.00" class="n">36<tspan dx="-0.3">1</tspan></text>
<text x="533.90" y="86.00" class="n">2<tspan class="k" dx="-0.3">1</tspan><tspan class="c" dx="0.3">,</tspan>877</text>
<text x="650.10" y="86.00" class="n"><tspan class="k">1</tspan>4<tspan class="c" dx="0.3">,</tspan>805</text>
<text x="846.80" y="86.00" class="n">7<tspan class="c" dx="0.3">,</tspan>883</text>
<text x="847.70" y="82.80" class="mk">§</text>
<text x="325.90" y="85.00" class="p" textLength="2.10" lengthAdjust="spacingAndGlyphs">(</text>
<text x="355.50" y="86.00" class="n">7<tspan class="q" dx="0.7">.</tspan>42</text>
<text x="358.90" y="85.00" class="pe" textLength="2.10" lengthAdjust="spacingAndGlyphs">)</text>
<text x="447.00" y="85.00" class="p" textLength="2.10" lengthAdjust="spacingAndGlyphs">(</text>
<text x="472.20" y="86.00" class="n">3<tspan class="q" dx="0.7">.</tspan>34</text>
<text x="475.60" y="85.00" class="pe" textLength="2.10" lengthAdjust="spacingAndGlyphs">)</text>
<text x="559.20" y="85.00" class="p" textLength="2.10" lengthAdjust="spacingAndGlyphs">(</text>
<text x="589.10" y="86.00" class="n">62<tspan class="q" dx="0.7">.</tspan>75</text>
<text x="592.50" y="85.00" class="pe" textLength="2.10" lengthAdjust="spacingAndGlyphs">)</text>
<text x="680.40" y="85.00" class="p" textLength="2.10" lengthAdjust="spacingAndGlyphs">(</text>
<text x="705.40" y="86.00" class="n">6<tspan class="q" dx="0.7">.</tspan>59</text>
<text x="708.80" y="85.00" class="pe" textLength="2.10" lengthAdjust="spacingAndGlyphs">)</text>
<text x="8.94" y="95.00" textLength="95.12" lengthAdjust="spacingAndGlyphs">Botulism, foodborne</text>
<text x="241.60" y="95.00" class="n">23</text>
<text x="300.40" y="95.00" class="n">2</text>
<text x="416.70" y="95.00" class="n">2</text>
<text x="650.10" y="95.00" class="n"><tspan class="k">1</tspan>7</text>
<text x="767.10" y="95.00" class="n">1</text>
<text x="846.80" y="95.00" class="n">1</text>
<text x="325.90" y="94.00" class="p" textLength="2.10" lengthAdjust="spacingAndGlyphs">(</text>
<text x="355.50" y="95.00" class="n">0<tspan class="q" dx="0.7">.</tspan>08</text>
<text x="358.90" y="94.00" class="pe" textLength="2.10" lengthAdjust="spacingAndGlyphs">)</text>
<text x="447.00" y="94.00" class="p" textLength="2.10" lengthAdjust="spacingAndGlyphs">(</text>
<text x="472.20" y="95.00" class="n">0<tspan class="q" dx="0.7">.</tspan>02</text>
<text x="475.60" y="94.00" class="pe" textLength="2.10" lengthAdjust="spacingAndGlyphs">)</text>
<text x="559.20" y="94.00" class="p" textLength="2.10" lengthAdjust="spacingAndGlyphs">(</text>
<text x="591.90" y="94.00" class="pe" textLength="2.10" lengthAdjust="spacingAndGlyphs">)</text>
<text x="680.40" y="94.00" class="p" textLength="2.10" lengthAdjust="spacingAndGlyphs">(</text>
<text x="705.40" y="95.00" class="n">0<tspan class="q" dx="0.7">.</tspan>0<tspan dx="-0.3">1</tspan></text>
<text x="708.80" y="94.00" class="pe" textLength="2.10" lengthAdjust="spacingAndGlyphs">)</text>
<text x="18.76" y="104.00" textLength="27.35" lengthAdjust="spacingAndGlyphs">Infant</text>
<text x="241.60" y="104.00" class="n">92</text>
<text x="300.40" y="104.00" class="n">1</text>
<text x="416.70" y="104.00" class="n">3</text>
<text x="533.90" y="104.00" class="n">2</text>
<text x="650.10" y="104.00" class="n">54</text>
<text x="846.80" y="104.00" class="n">32</text>
<text x="325.90" y="103.00" class="p" textLength="2.10" lengthAdjust="spacingAndGlyphs">(</text>
<text x="355.50" y="104.00" class="n">2<tspan class="q" dx="0.7">.</tspan>35</text>
<text x="358.90" y="103.00" class="pe" textLength="2.10" lengthAdjust="spacingAndGlyphs">)</text>
<text x="447.00" y="103.00" class="p" textLength="2.10" lengthAdjust="spacingAndGlyphs">(</text>
<text x="472.20" y="104.00" class="n"><tspan class="k">1</tspan><tspan class="q" dx="0.7">.</tspan>65</text>
<text x="475.60" y="103.00" class="pe" textLength="2.10" lengthAdjust="spacingAndGlyphs">)</text>
<text x="559.20" y="103.00" class="p" textLength="2.10" lengthAdjust="spacingAndGlyphs">(</text>
<text x="589.10" y="104.00" class="n">0<tspan class="q" dx="0.7">.</tspan>35</text>
<text x="592.50" y="103.00" class="pe" textLength="2.10" lengthAdjust="spacingAndGlyphs">)</text>
<text x="680.40" y="103.00" class="p" textLength="2.10" lengthAdjust="spacingAndGlyphs">(</text>
<text x="705.40" y="104.00" class="n"><tspan class="k">1</tspan><tspan class="q" dx="0.7">.</tspan>78</text>
<text x="708.80" y="103.00" class="pe" textLength="2.10" lengthAdjust="spacingAndGlyphs">)</text>
<text x="19.10" y="113.00" textLength="108.95" lengthAdjust="spacingAndGlyphs">Other (includes wound)</text>
<text x="241.60" y="113.00" class="n">39</text>
<text x="533.90" y="113.00" class="n">3</text>
<text x="650.10" y="113.00" class="n"><tspan class="k">1</tspan>7</text>
<text x="846.80" y="113.00" class="n"><tspan class="k">1</tspan>9</text>
<text x="325.90" y="112.00" class="p" textLength="2.10" lengthAdjust="spacingAndGlyphs">(</text>
<text x="358.30" y="112.00" class="pe" textLength="2.10" lengthAdjust="spacingAndGlyphs">)</text>
<text x="447.00" y="112.00" class="p" textLength="2.10" lengthAdjust="spacingAndGlyphs">(</text>
<text x="475.00" y="112.00" class="pe" textLength="2.10" lengthAdjust="spacingAndGlyphs">)</text>
<text x="559.20" y="112.00" class="p" textLength="2.10" lengthAdjust="spacingAndGlyphs">(</text>
<text x="589.10" y="113.00" class="n">0<tspan class="q" dx="0.7">.</tspan>0<tspan dx="-0.3">1</tspan></text>
<text x="592.50" y="112.00" class="pe" textLength="2.10" lengthAdjust="spacingAndGlyphs">)</text>
<text x="680.40" y="112.00" class="p" textLength="2.10" lengthAdjust="spacingAndGlyphs">(</text>
<text x="705.40" y="113.00" class="n">0<tspan class="q" dx="0.7">.</tspan>0<tspan dx="-0.3">1</tspan></text>
<text x="708.80" y="112.00" class="pe" textLength="2.10" lengthAdjust="spacingAndGlyphs">)</text>
<text x="9.09" y="122.00" textLength="49.13" lengthAdjust="spacingAndGlyphs">Brucellosis</text>
<text x="241.60" y="122.00" class="n">82</text>
<text x="650.10" y="122.00" class="n">47</text>
<text x="767.10" y="122.00" class="n">1</text>
<text x="846.80" y="122.00" class="n">34</text>
<text x="325.90" y="121.00" class="p" textLength="2.10" lengthAdjust="spacingAndGlyphs">(</text>
<text x="358.30" y="121.00" class="pe" textLength="2.10" lengthAdjust="spacingAndGlyphs">)</text>
<text x="447.00" y="121.00" class="p" textLength="2.10" lengthAdjust="spacingAndGlyphs">(</text>
<text x="475.00" y="121.00" class="pe" textLength="2.10" lengthAdjust="spacingAndGlyphs">)</text>
<text x="559.20" y="121.00" class="p" textLength="2.10" lengthAdjust="spacingAndGlyphs">(</text>
<text x="591.90" y="121.00" class="pe" textLength="2.10" lengthAdjust="spacingAndGlyphs">)</text>
<text x="680.40" y="121.00" class="p" textLength="2.10" lengthAdjust="spacingAndGlyphs">(</text>
<text x="705.40" y="122.00" class="n">0<tspan class="q" dx="0.7">.</tspan>02</text>
<text x="708.80" y="121.00" class="pe" textLength="2.10" lengthAdjust="spacingAndGlyphs">)</text>
<text x="9.28" y="131.00" textLength="61.08" lengthAdjust="spacingAndGlyphs">Chlamydia<tspan class="mk" dy="-3.2">¶</tspan><tspan dy="3.2">**</tspan></text>
<text x="241.60" y="131.00" class="n">655<tspan class="c" dx="0.3">,</tspan>335</text>
<text x="300.40" y="131.00" class="n">8<tspan class="c" dx="0.3">,</tspan>746</text>
<text x="416.70" y="131.00" class="n">9<tspan class="c" dx="0.3">,</tspan><tspan class="k">1</tspan>2<tspan dx="-0.3">1</tspan></text>
<text x="533.90" y="131.00" class="n">228<tspan class="c" dx="0.3">,</tspan><tspan class="k">1</tspan>26</text>
<text x="650.10" y="131.00" class="n"><tspan class="k">1</tspan>36<tspan class="c" dx="0.3">,</tspan>88<tspan dx="-0.3">1</tspan></text>
<text x="846.80" y="131.00" class="n">272<tspan class="c" dx="0.3">,</tspan>46<tspan dx="-0.3">1</tspan></text>
<text x="847.70" y="127.80" class="mk">§</text>
<text x="325.90" y="130.00" class="p" textLength="2.10" lengthAdjust="spacingAndGlyphs">(</text>
<text x="355.50" y="131.00" class="n">364<tspan class="q" dx="0.7">.</tspan>8<tspan dx="-0.3">1</tspan></text>
<text x="358.90" y="130.00" class="pe" textLength="2.10" lengthAdjust="spacingAndGlyphs">)</text>
<text x="447.00" y="130.00" class="p" textLength="2.10" lengthAdjust="spacingAndGlyphs">(</text>
<text x="472.20" y="131.00" class="n">84<tspan class="q" dx="0.7">.</tspan>29</text>
<text x="475.60" y="130.00" class="pe" textLength="2.10" lengthAdjust="spacingAndGlyphs">)</text>
<text x="559.20" y="130.00" class="p" textLength="2.10" lengthAdjust="spacingAndGlyphs">(</text>
<text x="589.10" y="131.00" class="n">654<tspan class="q" dx="0.7">.</tspan>37</text>
<text x="592.50" y="130.00" class="pe" textLength="2.10" lengthAdjust="spacingAndGlyphs">)</text>
<text x="680.40" y="130.00" class="p" textLength="2.10" lengthAdjust="spacingAndGlyphs">(</text>
<text x="705.40" y="131.00" class="n">60<tspan class="q" dx="0.7">.</tspan>94</text>
<text x="708.80" y="130.00" class="pe" textLength="2.10" lengthAdjust="spacingAndGlyphs">)</text>
<text x="9.37" y="157.00" textLength="64.19" lengthAdjust="spacingAndGlyphs">Cyclosporiasis</text>
<text x="241.60" y="157.00" class="n">56</text>
<text x="416.70" y="157.00" class="n">1</text>
<text x="533.90" y="157.00" class="n">6</text>
<text x="650.10" y="157.00" class="n">34</text>
<text x="846.80" y="157.00" class="n"><tspan class="k">1</tspan>5</text>
<text x="325.90" y="156.00" class="p" textLength="2.10" lengthAdjust="spacingAndGlyphs">(</text>
<text x="358.30" y="156.00" class="pe" textLength="2.10" lengthAdjust="spacingAndGlyphs">)</text>
<text x="447.00" y="156.00" class="p" textLength="2.10" lengthAdjust="spacingAndGlyphs">(</text>
<text x="472.20" y="157.00" class="n">0<tspan class="q" dx="0.7">.</tspan>0<tspan dx="-0.3">1</tspan></text>
<text x="475.60" y="156.00" class="pe" textLength="2.10" lengthAdjust="spacingAndGlyphs">)</text>
<text x="559.20" y="156.00" class="p" textLength="2.10" lengthAdjust="spacingAndGlyphs">(</text>
<text x="589.10" y="157.00" class="n">0<tspan class="q" dx="0.7">.</tspan>02</text>
<text x="592.50" y="156.00" class="pe" textLength="2.10" lengthAdjust="spacingAndGlyphs">)</text>
<text x="680.40" y="156.00" class="p" textLength="2.10" lengthAdjust="spacingAndGlyphs">(</text>
<text x="705.40" y="157.00" class="n">0<tspan class="q" dx="0.7">.</tspan>02</text>
<text x="708.80" y="156.00" class="pe" textLength="2.10" lengthAdjust="spacingAndGlyphs">)</text>
<text x="8.94" y="175.00" textLength="52.18" lengthAdjust="spacingAndGlyphs">Ehrlichiosis,</text>
<text x="8.94" y="202.00" textLength="172.75" lengthAdjust="spacingAndGlyphs">Encephalitis, California serogroup viral</text>
<text x="241.60" y="202.00" class="n">70</text>
<text x="300.40" y="202.00" class="n">3</text>
<text x="533.90" y="202.00" class="n">1</text>
<text x="650.10" y="202.00" class="n">6<tspan dx="-0.3">1</tspan></text>
<text x="846.80" y="202.00" class="n">5</text>
<text x="325.90" y="201.00" class="p" textLength="2.10" lengthAdjust="spacingAndGlyphs">(</text>
<text x="355.50" y="202.00" class="n">0<tspan class="q" dx="0.7">.</tspan><tspan class="k">1</tspan>4</text>
<text x="358.90" y="201.00" class="pe" textLength="2.10" lengthAdjust="spacingAndGlyphs">)</text>
<text x="447.00" y="201.00" class="p" textLength="2.10" lengthAdjust="spacingAndGlyphs">(</text>
<text x="475.00" y="201.00" class="pe" textLength="2.10" lengthAdjust="spacingAndGlyphs">)</text>
<text x="559.20" y="201.00" class="p" textLength="2.10" lengthAdjust="spacingAndGlyphs">(</text>
<text x="589.10" y="202.00" class="n">0<tspan class="q" dx="0.7">.</tspan>00</text>
<text x="592.50" y="201.00" class="pe" textLength="2.10" lengthAdjust="spacingAndGlyphs">)</text>
<text x="680.40" y="201.00" class="p" textLength="2.10" lengthAdjust="spacingAndGlyphs">(</text>
<text x="705.40" y="202.00" class="n">0<tspan class="q" dx="0.7">.</tspan>03</text>
<text x="708.80" y="201.00" class="pe" textLength="2.10" lengthAdjust="spacingAndGlyphs">)</text>
<text x="18.81" y="211.00" textLength="67.06" lengthAdjust="spacingAndGlyphs">Eastern equine</text>
<text x="241.60" y="211.00" class="n">5</text>
<text x="533.90" y="211.00" class="n">1</text>
<text x="650.10" y="211.00" class="n">4</text>
<text x="325.90" y="210.00" class="p" textLength="2.10" lengthAdjust="spacingAndGlyphs">(</text>
<text x="358.30" y="210.00" class="pe" textLength="2.10" lengthAdjust="spacingAndGlyphs">)</text>
<text x="447.00" y="210.00" class="p" textLength="2.10" lengthAdjust="spacingAndGlyphs">(</text>
<text x="475.00" y="210.00" class="pe" textLength="2.10" lengthAdjust="spacingAndGlyphs">)</text>
<text x="559.20" y="210.00" class="p" textLength="2.10" lengthAdjust="spacingAndGlyphs">(</text>
<text x="589.10" y="211.00" class="n">0<tspan class="q" dx="0.7">.</tspan>00</text>
<text x="592.50" y="210.00" class="pe" textLength="2.10" lengthAdjust="spacingAndGlyphs">)</text>
<text x="680.40" y="210.00" class="p" textLength="2.10" lengthAdjust="spacingAndGlyphs">(</text>
<text x="705.40" y="211.00" class="n">0<tspan class="q" dx="0.7">.</tspan>00</text>
<text x="708.80" y="210.00" class="pe" textLength="2.10" lengthAdjust="spacingAndGlyphs">)</text>
<text x="18.94" y="220.00" textLength="38.73" lengthAdjust="spacingAndGlyphs">St. Louis</text>
<text x="241.60" y="220.00" class="n">4</text>
<text x="650.10" y="220.00" class="n">4</text>
<text x="325.90" y="219.00" class="p" textLength="2.10" lengthAdjust="spacingAndGlyphs">(</text>
<text x="358.30" y="219.00" class="pe" textLength="2.10" lengthAdjust="spacingAndGlyphs">)</text>
<text x="447.00" y="219.00" class="p" textLength="2.10" lengthAdjust="spacingAndGlyphs">(</text>
<text x="475.00" y="219.00" class="pe" textLength="2.10" lengthAdjust="spacingAndGlyphs">)</text>
<text x="559.20" y="219.00" class="p" textLength="2.10" lengthAdjust="spacingAndGlyphs">(</text>
<text x="591.90" y="219.00" class="pe" textLength="2.10" lengthAdjust="spacingAndGlyphs">)</text>
<text x="680.40" y="219.00" class="p" textLength="2.10" lengthAdjust="spacingAndGlyphs">(</text>
<text x="705.40" y="220.00" class="n">0<tspan class="q" dx="0.7">.</tspan>00</text>
<text x="708.80" y="219.00" class="pe" textLength="2.10" lengthAdjust="spacingAndGlyphs">)</text>
<text x="9.32" y="246.00" textLength="57.94" lengthAdjust="spacingAndGlyphs">Gonorrhea**</text>
<text x="241.60" y="246.00" class="n">359<tspan class="c" dx="0.3">,</tspan>442</text>
<text x="300.40" y="246.00" class="n"><tspan class="k">1</tspan><tspan class="c" dx="0.3">,</tspan>7<tspan class="k" dx="-0.3">1</tspan>9</text>
<text x="416.70" y="246.00" class="n"><tspan class="k">1</tspan><tspan class="c" dx="0.3">,</tspan>662</text>
<text x="533.90" y="246.00" class="n">220<tspan class="c" dx="0.3">,</tspan>58<tspan dx="-0.3">1</tspan></text>
<text x="650.10" y="246.00" class="n">40<tspan class="c" dx="0.3">,</tspan>896</text>
<text x="846.80" y="246.00" class="n">94<tspan class="c" dx="0.3">,</tspan>584</text>
<text x="325.90" y="245.00" class="p" textLength="2.10" lengthAdjust="spacingAndGlyphs">(</text>
<text x="355.50" y="246.00" class="n">7<tspan class="k" dx="-0.3">1</tspan><tspan class="q" dx="0.7">.</tspan>70</text>
<text x="358.90" y="245.00" class="pe" textLength="2.10" lengthAdjust="spacingAndGlyphs">)</text>
<text x="447.00" y="245.00" class="p" textLength="2.10" lengthAdjust="spacingAndGlyphs">(</text>
<text x="472.20" y="246.00" class="n"><tspan class="k">1</tspan>5<tspan class="q" dx="0.7">.</tspan>36</text>
<text x="475.60" y="245.00" class="pe" textLength="2.10" lengthAdjust="spacingAndGlyphs">)</text>
<text x="559.20" y="245.00" class="p" textLength="2.10" lengthAdjust="spacingAndGlyphs">(</text>
<text x="589.10" y="246.00" class="n">632<tspan class="q" dx="0.7">.</tspan>72</text>
<text x="592.50" y="245.00" class="pe" textLength="2.10" lengthAdjust="spacingAndGlyphs">)</text>
<text x="680.40" y="245.00" class="p" textLength="2.10" lengthAdjust="spacingAndGlyphs">(</text>
<text x="705.40" y="246.00" class="n"><tspan class="k">1</tspan>8<tspan class="q" dx="0.7">.</tspan>2<tspan dx="-0.3">1</tspan></text>
<text x="708.80" y="245.00" class="pe" textLength="2.10" lengthAdjust="spacingAndGlyphs">)</text>
<text x="9.03" y="291.00" textLength="50.02" lengthAdjust="spacingAndGlyphs">Hepatitis A</text>
<text x="241.60" y="291.00" class="n"><tspan class="k">1</tspan>7<tspan class="c" dx="0.3">,</tspan>047</text>
<text x="300.40" y="291.00" class="n"><tspan class="k">1</tspan>77</text>
<text x="416.70" y="291.00" class="n">279</text>
<text x="533.90" y="291.00" class="n"><tspan class="k">1</tspan><tspan class="c" dx="0.3">,</tspan>9<tspan class="k" dx="-0.3">1</tspan>5</text>
<text x="650.10" y="291.00" class="n">9<tspan class="c" dx="0.3">,</tspan>246</text>
<text x="767.10" y="291.00" class="n">58</text>
<text x="846.80" y="291.00" class="n">5<tspan class="c" dx="0.3">,</tspan>372</text>
<text x="325.90" y="290.00" class="p" textLength="2.10" lengthAdjust="spacingAndGlyphs">(</text>
<text x="355.50" y="291.00" class="n">7<tspan class="q" dx="0.7">.</tspan>38</text>
<text x="358.90" y="290.00" class="pe" textLength="2.10" lengthAdjust="spacingAndGlyphs">)</text>
<text x="447.00" y="290.00" class="p" textLength="2.10" lengthAdjust="spacingAndGlyphs">(</text>
<text x="472.20" y="291.00" class="n">2<tspan class="q" dx="0.7">.</tspan>58</text>
<text x="475.60" y="290.00" class="pe" textLength="2.10" lengthAdjust="spacingAndGlyphs">)</text>
<text x="559.20" y="290.00" class="p" textLength="2.10" lengthAdjust="spacingAndGlyphs">(</text>
<text x="589.10" y="291.00" class="n">5<tspan class="q" dx="0.7">.</tspan>49</text>
<text x="592.50" y="290.00" class="pe" textLength="2.10" lengthAdjust="spacingAndGlyphs">)</text>
<text x="680.40" y="290.00" class="p" textLength="2.10" lengthAdjust="spacingAndGlyphs">(</text>
<text x="705.40" y="291.00" class="n">4<tspan class="q" dx="0.7">.</tspan><tspan class="k">1</tspan>2</text>
<text x="708.80" y="290.00" class="pe" textLength="2.10" lengthAdjust="spacingAndGlyphs">)</text>
<text x="9.07" y="300.00" textLength="48.80" lengthAdjust="spacingAndGlyphs">Hepatitis B</text>
<text x="241.60" y="300.00" class="n">7<tspan class="c" dx="0.3">,</tspan>694</text>
<text x="300.40" y="300.00" class="n">83</text>
<text x="416.70" y="300.00" class="n">43<tspan dx="-0.3">1</tspan></text>
<text x="533.90" y="300.00" class="n"><tspan class="k">1</tspan><tspan class="c" dx="0.3">,</tspan>540</text>
<text x="650.10" y="300.00" class="n">3<tspan class="c" dx="0.3">,</tspan>075</text>
<text x="767.10" y="300.00" class="n">30</text>
<text x="846.80" y="300.00" class="n">2<tspan class="c" dx="0.3">,</tspan>535</text>
<text x="325.90" y="299.00" class="p" textLength="2.10" lengthAdjust="spacingAndGlyphs">(</text>
<text x="355.50" y="300.00" class="n">3<tspan class="q" dx="0.7">.</tspan>46</text>
<text x="358.90" y="299.00" class="pe" textLength="2.10" lengthAdjust="spacingAndGlyphs">)</text>
<text x="447.00" y="299.00" class="p" textLength="2.10" lengthAdjust="spacingAndGlyphs">(</text>
<text x="472.20" y="300.00" class="n">3<tspan class="q" dx="0.7">.</tspan>98</text>
<text x="475.60" y="299.00" class="pe" textLength="2.10" lengthAdjust="spacingAndGlyphs">)</text>
<text x="559.20" y="299.00" class="p" textLength="2.10" lengthAdjust="spacingAndGlyphs">(</text>
<text x="589.10" y="300.00" class="n">4<tspan class="q" dx="0.7">.</tspan>42</text>
<text x="592.50" y="299.00" class="pe" textLength="2.10" lengthAdjust="spacingAndGlyphs">)</text>
<text x="680.40" y="299.00" class="p" textLength="2.10" lengthAdjust="spacingAndGlyphs">(</text>
<text x="705.40" y="300.00" class="n"><tspan class="k">1</tspan><tspan class="q" dx="0.7">.</tspan>37</text>
<text x="708.80" y="299.00" class="pe" textLength="2.10" lengthAdjust="spacingAndGlyphs">)</text>
<text x="9.06" y="318.00" textLength="58.10" lengthAdjust="spacingAndGlyphs">Legionellosis</text>
<text x="241.60" y="318.00" class="n"><tspan class="k">1</tspan><tspan class="c" dx="0.3">,</tspan><tspan class="k">1</tspan>08</text>
<text x="300.40" y="318.00" class="n">2</text>
<text x="416.70" y="318.00" class="n">6</text>
<text x="533.90" y="318.00" class="n">1<tspan class="k">1</tspan>7</text>
<text x="650.10" y="318.00" class="n">737</text>
<text x="767.10" y="318.00" class="n">8</text>
<text x="846.80" y="318.00" class="n">238</text>
<text x="325.90" y="317.00" class="p" textLength="2.10" lengthAdjust="spacingAndGlyphs">(</text>
<text x="355.50" y="318.00" class="n">0<tspan class="q" dx="0.7">.</tspan>09</text>
<text x="358.90" y="317.00" class="pe" textLength="2.10" lengthAdjust="spacingAndGlyphs">)</text>
<text x="447.00" y="317.00" class="p" textLength="2.10" lengthAdjust="spacingAndGlyphs">(</text>
<text x="472.20" y="318.00" class="n">0<tspan class="q" dx="0.7">.</tspan>06</text>
<text x="475.60" y="317.00" class="pe" textLength="2.10" lengthAdjust="spacingAndGlyphs">)</text>
<text x="559.20" y="317.00" class="p" textLength="2.10" lengthAdjust="spacingAndGlyphs">(</text>
<text x="589.10" y="318.00" class="n">0<tspan class="q" dx="0.7">.</tspan>34</text>
<text x="592.50" y="317.00" class="pe" textLength="2.10" lengthAdjust="spacingAndGlyphs">)</text>
<text x="680.40" y="317.00" class="p" textLength="2.10" lengthAdjust="spacingAndGlyphs">(</text>
<text x="705.40" y="318.00" class="n">0<tspan class="q" dx="0.7">.</tspan>34</text>
<text x="708.80" y="317.00" class="pe" textLength="2.10" lengthAdjust="spacingAndGlyphs">)</text>
<text x="9.11" y="327.00" textLength="59.91" lengthAdjust="spacingAndGlyphs">Lyme disease</text>
<text x="241.60" y="327.00" class="n"><tspan class="k">1</tspan>6<tspan class="c" dx="0.3">,</tspan>273</text>
<text x="300.40" y="327.00" class="n">23</text>
<text x="416.70" y="327.00" class="n">86</text>
<text x="533.90" y="327.00" class="n"><tspan class="k">1</tspan>92</text>
<text x="650.10" y="327.00" class="n"><tspan class="k">1</tspan>2<tspan class="c" dx="0.3">,</tspan>48<tspan dx="-0.3">1</tspan></text>
<text x="767.10" y="327.00" class="n">39</text>
<text x="846.80" y="327.00" class="n">3<tspan class="c" dx="0.3">,</tspan>452</text>
<text x="325.90" y="326.00" class="p" textLength="2.10" lengthAdjust="spacingAndGlyphs">(</text>
<text x="355.50" y="327.00" class="n">0<tspan class="q" dx="0.7">.</tspan>96</text>
<text x="358.90" y="326.00" class="pe" textLength="2.10" lengthAdjust="spacingAndGlyphs">)</text>
<text x="447.00" y="326.00" class="p" textLength="2.10" lengthAdjust="spacingAndGlyphs">(</text>
<text x="472.20" y="327.00" class="n">0<tspan class="q" dx="0.7">.</tspan>85</text>
<text x="475.60" y="326.00" class="pe" textLength="2.10" lengthAdjust="spacingAndGlyphs">)</text>
<text x="559.20" y="326.00" class="p" textLength="2.10" lengthAdjust="spacingAndGlyphs">(</text>
<text x="589.10" y="327.00" class="n">0<tspan class="q" dx="0.7">.</tspan>55</text>
<text x="592.50" y="326.00" class="pe" textLength="2.10" lengthAdjust="spacingAndGlyphs">)</text>
<text x="680.40" y="326.00" class="p" textLength="2.10" lengthAdjust="spacingAndGlyphs">(</text>
<text x="705.40" y="327.00" class="n">5<tspan class="q" dx="0.7">.</tspan>57</text>
<text x="708.80" y="326.00" class="pe" textLength="2.10" lengthAdjust="spacingAndGlyphs">)</text>
<text x="9.04" y="336.00" textLength="32.94" lengthAdjust="spacingAndGlyphs">Malaria</text>
<text x="241.60" y="336.00" class="n"><tspan class="k">1</tspan><tspan class="c" dx="0.3">,</tspan>666</text>
<text x="300.40" y="336.00" class="n">3</text>
<text x="416.70" y="336.00" class="n"><tspan class="k">1</tspan>07</text>
<text x="533.90" y="336.00" class="n">706</text>
<text x="650.10" y="336.00" class="n">403</text>
<text x="767.10" y="336.00" class="n">24</text>
<text x="846.80" y="336.00" class="n">423</text>
<text x="325.90" y="335.00" class="p" textLength="2.10" lengthAdjust="spacingAndGlyphs">(</text>
<text x="355.50" y="336.00" class="n">0<tspan class="q" dx="0.7">.</tspan><tspan class="k">1</tspan>3</text>
<text x="358.90" y="335.00" class="pe" textLength="2.10" lengthAdjust="spacingAndGlyphs">)</text>
<text x="447.00" y="335.00" class="p" textLength="2.10" lengthAdjust="spacingAndGlyphs">(</text>
<text x="472.20" y="336.00" class="n">0<tspan class="q" dx="0.7">.</tspan>99</text>
<text x="475.60" y="335.00" class="pe" textLength="2.10" lengthAdjust="spacingAndGlyphs">)</text>
<text x="559.20" y="335.00" class="p" textLength="2.10" lengthAdjust="spacingAndGlyphs">(</text>
<text x="589.10" y="336.00" class="n">2<tspan class="q" dx="0.7">.</tspan>03</text>
<text x="592.50" y="335.00" class="pe" textLength="2.10" lengthAdjust="spacingAndGlyphs">)</text>
<text x="680.40" y="335.00" class="p" textLength="2.10" lengthAdjust="spacingAndGlyphs">(</text>
<text x="705.40" y="336.00" class="n">0<tspan class="q" dx="0.7">.</tspan><tspan class="k">1</tspan>8</text>
<text x="708.80" y="335.00" class="pe" textLength="2.10" lengthAdjust="spacingAndGlyphs">)</text>
<text x="9.14" y="345.00" textLength="36.54" lengthAdjust="spacingAndGlyphs">Measles</text>
<text x="241.60" y="345.00" class="n"><tspan class="k">1</tspan>00</text>
<text x="300.40" y="345.00" class="n">1</text>
<text x="416.70" y="345.00" class="n"><tspan class="k">1</tspan>5</text>
<text x="533.90" y="345.00" class="n">9</text>
<text x="650.10" y="345.00" class="n">62</text>
<text x="767.10" y="345.00" class="n">2</text>
<text x="846.80" y="345.00" class="n">11</text>
<text x="325.90" y="344.00" class="p" textLength="2.10" lengthAdjust="spacingAndGlyphs">(</text>
<text x="355.50" y="345.00" class="n">0<tspan class="q" dx="0.7">.</tspan>04</text>
<text x="358.90" y="344.00" class="pe" textLength="2.10" lengthAdjust="spacingAndGlyphs">)</text>
<text x="447.00" y="344.00" class="p" textLength="2.10" lengthAdjust="spacingAndGlyphs">(</text>
<text x="472.20" y="345.00" class="n">0<tspan class="q" dx="0.7">.</tspan><tspan class="k">1</tspan>4</text>
<text x="475.60" y="344.00" class="pe" textLength="2.10" lengthAdjust="spacingAndGlyphs">)</text>
<text x="559.20" y="344.00" class="p" textLength="2.10" lengthAdjust="spacingAndGlyphs">(</text>
<text x="589.10" y="345.00" class="n">0<tspan class="q" dx="0.7">.</tspan>03</text>
<text x="592.50" y="344.00" class="pe" textLength="2.10" lengthAdjust="spacingAndGlyphs">)</text>
<text x="680.40" y="344.00" class="p" textLength="2.10" lengthAdjust="spacingAndGlyphs">(</text>
<text x="705.40" y="345.00" class="n">0<tspan class="q" dx="0.7">.</tspan>03</text>
<text x="708.80" y="344.00" class="pe" textLength="2.10" lengthAdjust="spacingAndGlyphs">)</text>
<text x="8.94" y="353.00" textLength="104.47" lengthAdjust="spacingAndGlyphs">Meningococcal disease</text>
<text x="241.60" y="353.00" class="n">2<tspan class="c" dx="0.3">,</tspan>50<tspan dx="-0.3">1</tspan></text>
<text x="300.40" y="353.00" class="n">27</text>
<text x="416.70" y="353.00" class="n">36</text>
<text x="533.90" y="353.00" class="n">372</text>
<text x="650.10" y="353.00" class="n"><tspan class="k">1</tspan><tspan class="c" dx="0.3">,</tspan>547</text>
<text x="767.10" y="353.00" class="n">6</text>
<text x="846.80" y="353.00" class="n">5<tspan class="k" dx="-0.3">1</tspan>3</text>
<text x="325.90" y="352.00" class="p" textLength="2.10" lengthAdjust="spacingAndGlyphs">(</text>
<text x="355.50" y="353.00" class="n"><tspan class="k">1</tspan><tspan class="q" dx="0.7">.</tspan><tspan class="k">1</tspan>3</text>
<text x="358.90" y="352.00" class="pe" textLength="2.10" lengthAdjust="spacingAndGlyphs">)</text>
<text x="447.00" y="352.00" class="p" textLength="2.10" lengthAdjust="spacingAndGlyphs">(</text>
<text x="472.20" y="353.00" class="n">0<tspan class="q" dx="0.7">.</tspan>33</text>
<text x="475.60" y="352.00" class="pe" textLength="2.10" lengthAdjust="spacingAndGlyphs">)</text>
<text x="559.20" y="352.00" class="p" textLength="2.10" lengthAdjust="spacingAndGlyphs">(</text>
<text x="589.10" y="353.00" class="n"><tspan class="k">1</tspan><tspan class="q" dx="0.7">.</tspan>07</text>
<text x="592.50" y="352.00" class="pe" textLength="2.10" lengthAdjust="spacingAndGlyphs">)</text>
<text x="680.40" y="352.00" class="p" textLength="2.10" lengthAdjust="spacingAndGlyphs">(</text>
<text x="705.40" y="353.00" class="n">0<tspan class="q" dx="0.7">.</tspan>69</text>
<text x="708.80" y="352.00" class="pe" textLength="2.10" lengthAdjust="spacingAndGlyphs">)</text>
<text x="8.98" y="362.00" textLength="36.21" lengthAdjust="spacingAndGlyphs">Mumps</text>
<text x="241.60" y="362.00" class="n">387</text>
<text x="300.40" y="362.00" class="n">9</text>
<text x="416.70" y="362.00" class="n">26</text>
<text x="533.90" y="362.00" class="n">32</text>
<text x="650.10" y="362.00" class="n"><tspan class="k">1</tspan>9<tspan dx="-0.3">1</tspan></text>
<text x="767.10" y="362.00" class="n">3</text>
<text x="846.80" y="362.00" class="n"><tspan class="k">1</tspan>26</text>
<text x="325.90" y="361.00" class="p" textLength="2.10" lengthAdjust="spacingAndGlyphs">(</text>
<text x="355.50" y="362.00" class="n">0<tspan class="q" dx="0.7">.</tspan>4<tspan dx="-0.3">1</tspan></text>
<text x="358.90" y="361.00" class="pe" textLength="2.10" lengthAdjust="spacingAndGlyphs">)</text>
<text x="447.00" y="361.00" class="p" textLength="2.10" lengthAdjust="spacingAndGlyphs">(</text>
<text x="472.20" y="362.00" class="n">0<tspan class="q" dx="0.7">.</tspan>24</text>
<text x="475.60" y="361.00" class="pe" textLength="2.10" lengthAdjust="spacingAndGlyphs">)</text>
<text x="559.20" y="361.00" class="p" textLength="2.10" lengthAdjust="spacingAndGlyphs">(</text>
<text x="589.10" y="362.00" class="n">0<tspan class="q" dx="0.7">.</tspan>09</text>
<text x="592.50" y="361.00" class="pe" textLength="2.10" lengthAdjust="spacingAndGlyphs">)</text>
<text x="680.40" y="361.00" class="p" textLength="2.10" lengthAdjust="spacingAndGlyphs">(</text>
<text x="705.40" y="362.00" class="n">0<tspan class="q" dx="0.7">.</tspan>09</text>
<text x="708.80" y="361.00" class="pe" textLength="2.10" lengthAdjust="spacingAndGlyphs">)</text>
<text x="8.94" y="371.00" textLength="130.18" lengthAdjust="spacingAndGlyphs">Pertussis (whooping cough)</text>
<text x="241.60" y="371.00" class="n">7<tspan class="c" dx="0.3">,</tspan>288</text>
<text x="300.40" y="371.00" class="n">55</text>
<text x="416.70" y="371.00" class="n"><tspan class="k">1</tspan>09</text>
<text x="533.90" y="371.00" class="n">397</text>
<text x="650.10" y="371.00" class="n">5<tspan class="c" dx="0.3">,</tspan>003</text>
<text x="767.10" y="371.00" class="n">37</text>
<text x="846.80" y="371.00" class="n"><tspan class="k">1</tspan><tspan class="c" dx="0.3">,</tspan>687</text>
<text x="325.90" y="370.00" class="p" textLength="2.10" lengthAdjust="spacingAndGlyphs">(</text>
<text x="355.50" y="371.00" class="n">2<tspan class="q" dx="0.7">.</tspan>29</text>
<text x="358.90" y="370.00" class="pe" textLength="2.10" lengthAdjust="spacingAndGlyphs">)</text>
<text x="447.00" y="370.00" class="p" textLength="2.10" lengthAdjust="spacingAndGlyphs">(</text>
<text x="472.20" y="371.00" class="n"><tspan class="k">1</tspan><tspan class="q" dx="0.7">.</tspan>0<tspan dx="-0.3">1</tspan></text>
<text x="475.60" y="370.00" class="pe" textLength="2.10" lengthAdjust="spacingAndGlyphs">)</text>
<text x="559.20" y="370.00" class="p" textLength="2.10" lengthAdjust="spacingAndGlyphs">(</text>
<text x="589.10" y="371.00" class="n"><tspan class="k">1</tspan><tspan class="q" dx="0.7">.</tspan><tspan class="k">1</tspan>4</text>
<text x="592.50" y="370.00" class="pe" textLength="2.10" lengthAdjust="spacingAndGlyphs">)</text>
<text x="680.40" y="370.00" class="p" textLength="2.10" lengthAdjust="spacingAndGlyphs">(</text>
<text x="705.40" y="371.00" class="n">2<tspan class="q" dx="0.7">.</tspan>23</text>
<text x="708.80" y="370.00" class="pe" textLength="2.10" lengthAdjust="spacingAndGlyphs">)</text>
<text x="9.06" y="380.00" textLength="30.55" lengthAdjust="spacingAndGlyphs">Plague</text>
<text x="241.60" y="380.00" class="n">9</text>
<text x="300.40" y="380.00" class="n">2</text>
<text x="650.10" y="380.00" class="n">7</text>
<text x="325.90" y="379.00" class="p" textLength="2.10" lengthAdjust="spacingAndGlyphs">(</text>
<text x="355.50" y="380.00" class="n">0<tspan class="q" dx="0.7">.</tspan>08</text>
<text x="358.90" y="379.00" class="pe" textLength="2.10" lengthAdjust="spacingAndGlyphs">)</text>
<text x="447.00" y="379.00" class="p" textLength="2.10" lengthAdjust="spacingAndGlyphs">(</text>
<text x="475.00" y="379.00" class="pe" textLength="2.10" lengthAdjust="spacingAndGlyphs">)</text>
<text x="559.20" y="379.00" class="p" textLength="2.10" lengthAdjust="spacingAndGlyphs">(</text>
<text x="591.90" y="379.00" class="pe" textLength="2.10" lengthAdjust="spacingAndGlyphs">)</text>
<text x="680.40" y="379.00" class="p" textLength="2.10" lengthAdjust="spacingAndGlyphs">(</text>
<text x="705.40" y="380.00" class="n">0<tspan class="q" dx="0.7">.</tspan>00</text>
<text x="708.80" y="379.00" class="pe" textLength="2.10" lengthAdjust="spacingAndGlyphs">)</text>
<text x="8.94" y="389.00" textLength="48.66" lengthAdjust="spacingAndGlyphs">Psittacosis</text>
<text x="241.60" y="389.00" class="n"><tspan class="k">1</tspan>6</text>
<text x="533.90" y="389.00" class="n">1</text>
<text x="650.10" y="389.00" class="n">11</text>
<text x="846.80" y="389.00" class="n">4</text>
<text x="325.90" y="388.00" class="p" textLength="2.10" lengthAdjust="spacingAndGlyphs">(</text>
<text x="358.30" y="388.00" class="pe" textLength="2.10" lengthAdjust="spacingAndGlyphs">)</text>
<text x="447.00" y="388.00" class="p" textLength="2.10" lengthAdjust="spacingAndGlyphs">(</text>
<text x="475.00" y="388.00" class="pe" textLength="2.10" lengthAdjust="spacingAndGlyphs">)</text>
<text x="559.20" y="388.00" class="p" textLength="2.10" lengthAdjust="spacingAndGlyphs">(</text>
<text x="589.10" y="389.00" class="n">0<tspan class="q" dx="0.7">.</tspan>00</text>
<text x="592.50" y="388.00" class="pe" textLength="2.10" lengthAdjust="spacingAndGlyphs">)</text>
<text x="680.40" y="388.00" class="p" textLength="2.10" lengthAdjust="spacingAndGlyphs">(</text>
<text x="705.40" y="389.00" class="n">0<tspan class="q" dx="0.7">.</tspan>0<tspan dx="-0.3">1</tspan></text>
<text x="708.80" y="388.00" class="pe" textLength="2.10" lengthAdjust="spacingAndGlyphs">)</text>
<text x="9.02" y="398.00" textLength="135.72" lengthAdjust="spacingAndGlyphs">Rocky Mountain spotted fever</text>
<text x="241.60" y="398.00" class="n">579</text>
<text x="300.40" y="398.00" class="n">9</text>
<text x="416.70" y="398.00" class="n">3</text>
<text x="533.90" y="398.00" class="n">3<tspan dx="-0.3">1</tspan></text>
<text x="650.10" y="398.00" class="n">449</text>
<text x="846.80" y="398.00" class="n">87</text>
<text x="325.90" y="397.00" class="p" textLength="2.10" lengthAdjust="spacingAndGlyphs">(</text>
<text x="355.50" y="398.00" class="n">0<tspan class="q" dx="0.7">.</tspan>39</text>
<text x="358.90" y="397.00" class="pe" textLength="2.10" lengthAdjust="spacingAndGlyphs">)</text>
<text x="447.00" y="397.00" class="p" textLength="2.10" lengthAdjust="spacingAndGlyphs">(</text>
<text x="472.20" y="398.00" class="n">0<tspan class="q" dx="0.7">.</tspan>03</text>
<text x="475.60" y="397.00" class="pe" textLength="2.10" lengthAdjust="spacingAndGlyphs">)</text>
<text x="559.20" y="397.00" class="p" textLength="2.10" lengthAdjust="spacingAndGlyphs">(</text>
<text x="589.10" y="398.00" class="n">0<tspan class="q" dx="0.7">.</tspan>09</text>
<text x="592.50" y="397.00" class="pe" textLength="2.10" lengthAdjust="spacingAndGlyphs">)</text>
<text x="680.40" y="397.00" class="p" textLength="2.10" lengthAdjust="spacingAndGlyphs">(</text>
<text x="705.40" y="398.00" class="n">0<tspan class="q" dx="0.7">.</tspan>20</text>
<text x="708.80" y="397.00" class="pe" textLength="2.10" lengthAdjust="spacingAndGlyphs">)</text>
<text x="9.04" y="407.00" textLength="33.02" lengthAdjust="spacingAndGlyphs">Rubella</text>
<text x="241.60" y="407.00" class="n">267</text>
<text x="416.70" y="407.00" class="n">3</text>
<text x="533.90" y="407.00" class="n">3</text>
<text x="650.10" y="407.00" class="n"><tspan class="k">1</tspan>94</text>
<text x="846.80" y="407.00" class="n">67</text>
<text x="325.90" y="406.00" class="p" textLength="2.10" lengthAdjust="spacingAndGlyphs">(</text>
<text x="358.30" y="406.00" class="pe" textLength="2.10" lengthAdjust="spacingAndGlyphs">)</text>
<text x="447.00" y="406.00" class="p" textLength="2.10" lengthAdjust="spacingAndGlyphs">(</text>
<text x="472.20" y="407.00" class="n">0<tspan class="q" dx="0.7">.</tspan>03</text>
<text x="475.60" y="406.00" class="pe" textLength="2.10" lengthAdjust="spacingAndGlyphs">)</text>
<text x="559.20" y="406.00" class="p" textLength="2.10" lengthAdjust="spacingAndGlyphs">(</text>
<text x="589.10" y="407.00" class="n">0<tspan class="q" dx="0.7">.</tspan>0<tspan dx="-0.3">1</tspan></text>
<text x="592.50" y="406.00" class="pe" textLength="2.10" lengthAdjust="spacingAndGlyphs">)</text>
<text x="680.40" y="406.00" class="p" textLength="2.10" lengthAdjust="spacingAndGlyphs">(</text>
<text x="705.40" y="407.00" class="n">0<tspan class="q" dx="0.7">.</tspan>09</text>
<text x="708.80" y="406.00" class="pe" textLength="2.10" lengthAdjust="spacingAndGlyphs">)</text>
<text x="9.05" y="416.00" textLength="133.85" lengthAdjust="spacingAndGlyphs">Rubella, congenital syndrome</text>
<text x="241.60" y="416.00" class="n">9</text>
<text x="300.90" y="416.00" class="e" textLength="9.50" lengthAdjust="spacingAndGlyphs">—</text>
<text x="416.70" y="416.00" class="n">1</text>
<text x="534.40" y="416.00" class="e" textLength="9.50" lengthAdjust="spacingAndGlyphs">—</text>
<text x="650.10" y="416.00" class="n">3</text>
<text x="767.10" y="416.00" class="n">1</text>
<text x="846.80" y="416.00" class="n">4</text>
<text x="325.90" y="415.00" class="p" textLength="2.10" lengthAdjust="spacingAndGlyphs">(</text>
<text x="347.70" y="416.00" class="e" textLength="9.50" lengthAdjust="spacingAndGlyphs">—</text>
<text x="358.30" y="415.00" class="pe" textLength="2.10" lengthAdjust="spacingAndGlyphs">)</text>
<text x="447.00" y="415.00" class="p" textLength="2.10" lengthAdjust="spacingAndGlyphs">(</text>
<text x="472.20" y="416.00" class="n">0<tspan class="q" dx="0.7">.</tspan>0<tspan dx="-0.3">1</tspan></text>
<text x="475.60" y="415.00" class="pe" textLength="2.10" lengthAdjust="spacingAndGlyphs">)</text>
<text x="559.20" y="415.00" class="p" textLength="2.10" lengthAdjust="spacingAndGlyphs">(</text>
<text x="581.30" y="416.00" class="e" textLength="9.50" lengthAdjust="spacingAndGlyphs">—</text>
<text x="591.90" y="415.00" class="pe" textLength="2.10" lengthAdjust="spacingAndGlyphs">)</text>
<text x="680.40" y="415.00" class="p" textLength="2.10" lengthAdjust="spacingAndGlyphs">(</text>
<text x="705.40" y="416.00" class="n">0<tspan class="q" dx="0.7">.</tspan>00</text>
<text x="708.80" y="415.00" class="pe" textLength="2.10" lengthAdjust="spacingAndGlyphs">)</text>
<text x="9.13" y="425.00" textLength="62.97" lengthAdjust="spacingAndGlyphs">Salmonellosis</text>
<text x="241.60" y="425.00" class="n">40<tspan class="c" dx="0.3">,</tspan>596</text>
<text x="300.40" y="425.00" class="n">264</text>
<text x="416.70" y="425.00" class="n">56<tspan dx="-0.3">1</tspan></text>
<text x="533.90" y="425.00" class="n">3<tspan class="c" dx="0.3">,</tspan>282</text>
<text x="650.10" y="425.00" class="n"><tspan class="k">1</tspan>9<tspan class="c" dx="0.3">,</tspan>504</text>
<text x="767.10" y="425.00" class="n">96</text>
<text x="846.80" y="425.00" class="n"><tspan class="k">1</tspan>6<tspan class="c" dx="0.3">,</tspan>889</text>
<text x="325.90" y="424.00" class="p" textLength="2.10" lengthAdjust="spacingAndGlyphs">(</text>
<text x="355.50" y="425.00" class="n">1<tspan class="k">1</tspan><tspan class="q" dx="0.7">.</tspan>0<tspan dx="-0.3">1</tspan></text>
<text x="358.90" y="424.00" class="pe" textLength="2.10" lengthAdjust="spacingAndGlyphs">)</text>
<text x="447.00" y="424.00" class="p" textLength="2.10" lengthAdjust="spacingAndGlyphs">(</text>
<text x="472.20" y="425.00" class="n">5<tspan class="q" dx="0.7">.</tspan><tspan class="k">1</tspan>8</text>
<text x="475.60" y="424.00" class="pe" textLength="2.10" lengthAdjust="spacingAndGlyphs">)</text>
<text x="559.20" y="424.00" class="p" textLength="2.10" lengthAdjust="spacingAndGlyphs">(</text>
<text x="589.10" y="425.00" class="n">9<tspan class="q" dx="0.7">.</tspan>4<tspan dx="-0.3">1</tspan></text>
<text x="592.50" y="424.00" class="pe" textLength="2.10" lengthAdjust="spacingAndGlyphs">)</text>
<text x="680.40" y="424.00" class="p" textLength="2.10" lengthAdjust="spacingAndGlyphs">(</text>
<text x="705.40" y="425.00" class="n">8<tspan class="q" dx="0.7">.</tspan>68</text>
<text x="708.80" y="424.00" class="pe" textLength="2.10" lengthAdjust="spacingAndGlyphs">)</text>
<text x="8.94" y="434.00" textLength="48.67" lengthAdjust="spacingAndGlyphs">Shigellosis</text>
<text x="241.60" y="434.00" class="n"><tspan class="k">1</tspan>7<tspan class="c" dx="0.3">,</tspan>52<tspan dx="-0.3">1</tspan></text>
<text x="300.40" y="434.00" class="n">220</text>
<text x="416.70" y="434.00" class="n"><tspan class="k">1</tspan>43</text>
<text x="533.90" y="434.00" class="n">2<tspan class="c" dx="0.3">,</tspan>4<tspan class="k" dx="-0.3">1</tspan>7</text>
<text x="650.10" y="434.00" class="n">7<tspan class="c" dx="0.3">,</tspan>333</text>
<text x="767.10" y="434.00" class="n"><tspan class="k">1</tspan>29</text>
<text x="846.80" y="434.00" class="n">7<tspan class="c" dx="0.3">,</tspan>279</text>
<text x="325.90" y="433.00" class="p" textLength="2.10" lengthAdjust="spacingAndGlyphs">(</text>
<text x="355.50" y="434.00" class="n">9<tspan class="q" dx="0.7">.</tspan><tspan class="k">1</tspan>8</text>
<text x="358.90" y="433.00" class="pe" textLength="2.10" lengthAdjust="spacingAndGlyphs">)</text>
<text x="447.00" y="433.00" class="p" textLength="2.10" lengthAdjust="spacingAndGlyphs">(</text>
<text x="472.20" y="434.00" class="n"><tspan class="k">1</tspan><tspan class="q" dx="0.7">.</tspan>32</text>
<text x="475.60" y="433.00" class="pe" textLength="2.10" lengthAdjust="spacingAndGlyphs">)</text>
<text x="559.20" y="433.00" class="p" textLength="2.10" lengthAdjust="spacingAndGlyphs">(</text>
<text x="589.10" y="434.00" class="n">6<tspan class="q" dx="0.7">.</tspan>93</text>
<text x="592.50" y="433.00" class="pe" textLength="2.10" lengthAdjust="spacingAndGlyphs">)</text>
<text x="680.40" y="433.00" class="p" textLength="2.10" lengthAdjust="spacingAndGlyphs">(</text>
<text x="705.40" y="434.00" class="n">3<tspan class="q" dx="0.7">.</tspan>26</text>
<text x="708.80" y="433.00" class="pe" textLength="2.10" lengthAdjust="spacingAndGlyphs">)</text>
<text x="9.02" y="443.00" textLength="179.79" lengthAdjust="spacingAndGlyphs">Streptococcal disease, invasive, group A</text>
<text x="241.60" y="443.00" class="n">2<tspan class="c" dx="0.3">,</tspan>382</text>
<text x="300.40" y="443.00" class="n">56</text>
<text x="416.70" y="443.00" class="n">24</text>
<text x="533.90" y="443.00" class="n">339</text>
<text x="650.10" y="443.00" class="n"><tspan class="k">1</tspan><tspan class="c" dx="0.3">,</tspan>364</text>
<text x="767.10" y="443.00" class="n">2</text>
<text x="846.80" y="443.00" class="n">597</text>
<text x="325.90" y="442.00" class="p" textLength="2.10" lengthAdjust="spacingAndGlyphs">(</text>
<text x="355.50" y="443.00" class="n">3<tspan class="q" dx="0.7">.</tspan>57</text>
<text x="358.90" y="442.00" class="pe" textLength="2.10" lengthAdjust="spacingAndGlyphs">)</text>
<text x="447.00" y="442.00" class="p" textLength="2.10" lengthAdjust="spacingAndGlyphs">(</text>
<text x="472.20" y="443.00" class="n">0<tspan class="q" dx="0.7">.</tspan>4<tspan dx="-0.3">1</tspan></text>
<text x="475.60" y="442.00" class="pe" textLength="2.10" lengthAdjust="spacingAndGlyphs">)</text>
<text x="559.20" y="442.00" class="p" textLength="2.10" lengthAdjust="spacingAndGlyphs">(</text>
<text x="589.10" y="443.00" class="n"><tspan class="k">1</tspan><tspan class="q" dx="0.7">.</tspan><tspan class="k">1</tspan>7</text>
<text x="592.50" y="442.00" class="pe" textLength="2.10" lengthAdjust="spacingAndGlyphs">)</text>
<text x="680.40" y="442.00" class="p" textLength="2.10" lengthAdjust="spacingAndGlyphs">(</text>
<text x="705.40" y="443.00" class="n">0<tspan class="q" dx="0.7">.</tspan>78</text>
<text x="708.80" y="442.00" class="pe" textLength="2.10" lengthAdjust="spacingAndGlyphs">)</text>
<text x="9.20" y="451.00" textLength="127.97" lengthAdjust="spacingAndGlyphs"><tspan class="i">Streptococcus pneumoniae,</tspan></text>
<text x="9.13" y="487.00" textLength="152.52" lengthAdjust="spacingAndGlyphs">Syphilis, primary and secondary**</text>
<text x="241.60" y="487.00" class="n">6<tspan class="c" dx="0.3">,</tspan>650</text>
<text x="300.40" y="487.00" class="n">54</text>
<text x="416.70" y="487.00" class="n">4<tspan dx="-0.3">1</tspan></text>
<text x="533.90" y="487.00" class="n">4<tspan class="c" dx="0.3">,</tspan>854</text>
<text x="650.10" y="487.00" class="n"><tspan class="k">1</tspan><tspan class="c" dx="0.3">,</tspan>008</text>
<text x="846.80" y="487.00" class="n">693</text>
<text x="847.70" y="483.80" class="mk">§</text>
<text x="325.90" y="486.00" class="p" textLength="2.10" lengthAdjust="spacingAndGlyphs">(</text>
<text x="355.50" y="487.00" class="n">2<tspan class="q" dx="0.7">.</tspan>25</text>
<text x="358.90" y="486.00" class="pe" textLength="2.10" lengthAdjust="spacingAndGlyphs">)</text>
<text x="447.00" y="486.00" class="p" textLength="2.10" lengthAdjust="spacingAndGlyphs">(</text>
<text x="472.20" y="487.00" class="n">0<tspan class="q" dx="0.7">.</tspan>38</text>
<text x="475.60" y="486.00" class="pe" textLength="2.10" lengthAdjust="spacingAndGlyphs">)</text>
<text x="559.20" y="486.00" class="p" textLength="2.10" lengthAdjust="spacingAndGlyphs">(</text>
<text x="566.30" y="487.00" class="n">1</text>
<text x="589.10" y="487.00" class="n">3<tspan class="q" dx="0.7">.</tspan>92</text>
<text x="592.50" y="486.00" class="pe" textLength="2.10" lengthAdjust="spacingAndGlyphs">)</text>
<text x="680.40" y="486.00" class="p" textLength="2.10" lengthAdjust="spacingAndGlyphs">(</text>
<text x="705.40" y="487.00" class="n">0<tspan class="q" dx="0.7">.</tspan>45</text>
<text x="708.80" y="486.00" class="pe" textLength="2.10" lengthAdjust="spacingAndGlyphs">)</text>
<text x="9.48" y="496.00" textLength="34.98" lengthAdjust="spacingAndGlyphs">Tetanus</text>
<text x="241.60" y="496.00" class="n">40</text>
<text x="416.70" y="496.00" class="n">1</text>
<text x="533.90" y="496.00" class="n">3</text>
<text x="650.10" y="496.00" class="n">25</text>
<text x="846.80" y="496.00" class="n">11</text>
<text x="325.90" y="495.00" class="p" textLength="2.10" lengthAdjust="spacingAndGlyphs">(</text>
<text x="358.30" y="495.00" class="pe" textLength="2.10" lengthAdjust="spacingAndGlyphs">)</text>
<text x="447.00" y="495.00" class="p" textLength="2.10" lengthAdjust="spacingAndGlyphs">(</text>
<text x="472.20" y="496.00" class="n">0<tspan class="q" dx="0.7">.</tspan>0<tspan dx="-0.3">1</tspan></text>
<text x="475.60" y="495.00" class="pe" textLength="2.10" lengthAdjust="spacingAndGlyphs">)</text>
<text x="559.20" y="495.00" class="p" textLength="2.10" lengthAdjust="spacingAndGlyphs">(</text>
<text x="589.10" y="496.00" class="n">0<tspan class="q" dx="0.7">.</tspan>0<tspan dx="-0.3">1</tspan></text>
<text x="592.50" y="495.00" class="pe" textLength="2.10" lengthAdjust="spacingAndGlyphs">)</text>
<text x="680.40" y="495.00" class="p" textLength="2.10" lengthAdjust="spacingAndGlyphs">(</text>
<text x="705.40" y="496.00" class="n">0<tspan class="q" dx="0.7">.</tspan>0<tspan dx="-0.3">1</tspan></text>
<text x="708.80" y="495.00" class="pe" textLength="2.10" lengthAdjust="spacingAndGlyphs">)</text>
<text x="9.59" y="505.00" textLength="101.38" lengthAdjust="spacingAndGlyphs">Toxic-shock syndrome</text>
<text x="241.60" y="505.00" class="n">1<tspan class="k">1</tspan>3</text>
<text x="416.70" y="505.00" class="n">5</text>
<text x="533.90" y="505.00" class="n">3</text>
<text x="650.10" y="505.00" class="n">9<tspan dx="-0.3">1</tspan></text>
<text x="846.80" y="505.00" class="n"><tspan class="k">1</tspan>4</text>
<text x="325.90" y="504.00" class="p" textLength="2.10" lengthAdjust="spacingAndGlyphs">(</text>
<text x="358.30" y="504.00" class="pe" textLength="2.10" lengthAdjust="spacingAndGlyphs">)</text>
<text x="447.00" y="504.00" class="p" textLength="2.10" lengthAdjust="spacingAndGlyphs">(</text>
<text x="472.20" y="505.00" class="n">0<tspan class="q" dx="0.7">.</tspan>06</text>
<text x="475.60" y="504.00" class="pe" textLength="2.10" lengthAdjust="spacingAndGlyphs">)</text>
<text x="559.20" y="504.00" class="p" textLength="2.10" lengthAdjust="spacingAndGlyphs">(</text>
<text x="589.10" y="505.00" class="n">0<tspan class="q" dx="0.7">.</tspan>0<tspan dx="-0.3">1</tspan></text>
<text x="592.50" y="504.00" class="pe" textLength="2.10" lengthAdjust="spacingAndGlyphs">)</text>
<text x="680.40" y="504.00" class="p" textLength="2.10" lengthAdjust="spacingAndGlyphs">(</text>
<text x="705.40" y="505.00" class="n">0<tspan class="q" dx="0.7">.</tspan>05</text>
<text x="708.80" y="504.00" class="pe" textLength="2.10" lengthAdjust="spacingAndGlyphs">)</text>
<text x="9.16" y="542.00" textLength="55.22" lengthAdjust="spacingAndGlyphs">Yellow fever</text>
<text x="241.60" y="542.00" class="n">1</text>
<text x="650.10" y="542.00" class="n">1</text>
<text x="325.90" y="541.00" class="p" textLength="2.10" lengthAdjust="spacingAndGlyphs">(</text>
<text x="358.30" y="541.00" class="pe" textLength="2.10" lengthAdjust="spacingAndGlyphs">)</text>
<text x="447.00" y="541.00" class="p" textLength="2.10" lengthAdjust="spacingAndGlyphs">(</text>
<text x="475.00" y="541.00" class="pe" textLength="2.10" lengthAdjust="spacingAndGlyphs">)</text>
<text x="561.40" y="541.00" class="p" textLength="2.10" lengthAdjust="spacingAndGlyphs">(</text>
<text x="591.90" y="541.00" class="pe" textLength="2.10" lengthAdjust="spacingAndGlyphs">)</text>
<text x="680.40" y="541.00" class="p" textLength="2.10" lengthAdjust="spacingAndGlyphs">(</text>
<text x="705.40" y="542.00" class="n">0<tspan class="q" dx="0.7">.</tspan>00</text>
<text x="708.80" y="541.00" class="pe" textLength="2.10" lengthAdjust="spacingAndGlyphs">)</text>
<text x="13.20" y="554.00" class="fm">*</text>
<text x="20.06" y="554.00" class="f" textLength="371.60" lengthAdjust="spacingAndGlyphs">No cases of anthrax, paralytic poliomyelitis, or human rabies were reported in 1999.</text>
<text x="14.00" y="559.20" class="mk">†</text>
<text x="20.36" y="562.00" class="f" textLength="270.44" lengthAdjust="spacingAndGlyphs">Total number of acquired immunodeficiency sydrome (AIDS)</text>
<text x="292.99" y="562.00" class="f" textLength="299.29" lengthAdjust="spacingAndGlyphs">cases reported to the Division of HIV/AIDS Prevention—Surveillance</text>
<text x="595.26" y="562.00" class="f" textLength="247.75" lengthAdjust="spacingAndGlyphs">and Epidemiology, National Center for HIV, STD, and TB</text>
<text x="20.15" y="570.00" class="f" textLength="228.04" lengthAdjust="spacingAndGlyphs">Prevention (NCHSTP), through December 31, 1999.</text>
<text x="14.00" y="576.20" class="mk">§</text>
<text x="20.24" y="579.00" class="f" textLength="263.32" lengthAdjust="spacingAndGlyphs">Includes the following cases originally reported as Hispanic:</text>
<text x="287.62" y="579.00" class="f" textLength="261.31" lengthAdjust="spacingAndGlyphs">7,764 for AIDS; 81,708 for chlamydia; 17,170 for gonorrhea;</text>
<text x="552.26" y="579.00" class="f" textLength="196.40" lengthAdjust="spacingAndGlyphs">and 527 for syphilis, primary and secondary.</text>
<text x="14.00" y="584.20" class="mk">¶</text>
<text x="20.31" y="587.00" class="f" textLength="288.82" lengthAdjust="spacingAndGlyphs">Chlamydia refers to genital infections caused by <tspan class="i">C. trachomatis.</tspan></text>
<text x="10.50" y="595.00" class="fm">**</text>
<text x="20.05" y="595.00" class="f" textLength="272.66" lengthAdjust="spacingAndGlyphs">In addition to data collected through the National Electronic</text>
<text x="295.34" y="595.00" class="f" textLength="248.42" lengthAdjust="spacingAndGlyphs">Telecommunications System for Surveillance (NETSS),</text>
<text x="546.25" y="595.00" class="f" textLength="296.46" lengthAdjust="spacingAndGlyphs">some data concerning ethnicity are collected on aggregate forms</text>
<text x="20.44" y="603.00" class="f" textLength="268.57" lengthAdjust="spacingAndGlyphs">different from those used for reported cases. Thus, the total</text>
<text x="291.74" y="603.00" class="f" textLength="269.37" lengthAdjust="spacingAndGlyphs">number of cases reported on this table can differ slightly from</text>
<text x="563.92" y="603.00" class="f" textLength="279.05" lengthAdjust="spacingAndGlyphs">others. Totals reported to the Division of Sexually Transmitted</text>
<text x="20.01" y="611.00" class="f" textLength="230.79" lengthAdjust="spacingAndGlyphs">Diseases Prevention, NCHSTP, as of August 8, 2000.</text>
<text x="11.00" y="616.20" class="mk">††</text>
<text x="20.24" y="619.00" class="f" textLength="361.02" lengthAdjust="spacingAndGlyphs">Totals reported to the National Center for Infectious Diseases as of June 30, 2000.</text>
<text x="11.00" y="624.20" class="mk">§§</text>
<text x="20.24" y="627.00" class="f" textLength="386.12" lengthAdjust="spacingAndGlyphs">Totals reported to the Division of Tuberculosis Elimination, NCHSTP, as of May 3, 2000.</text>
<text x="9.35" y="635.00" class="f" textLength="220.95" lengthAdjust="spacingAndGlyphs"><tspan class="b">Note:</tspan> Rates &lt;0.01 after rounding are listed as 0.00.</text>
</svg>
</div>
</body></html>
